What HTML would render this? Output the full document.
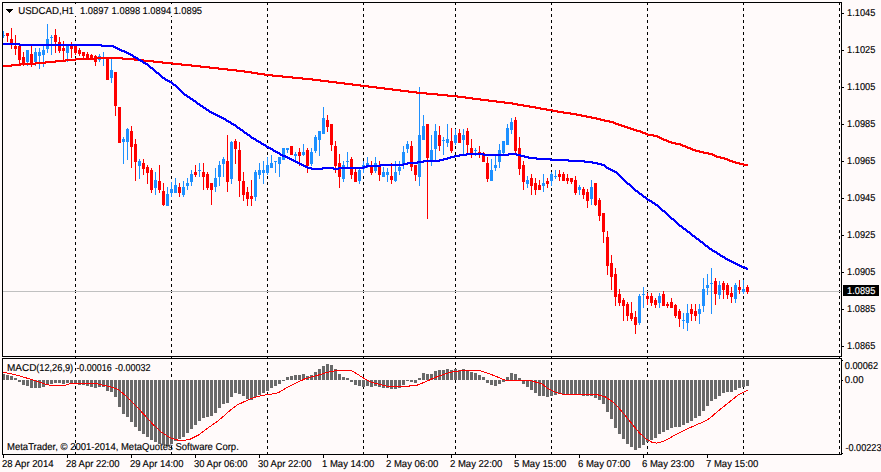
<!DOCTYPE html><html><head><meta charset="utf-8"><title>USDCAD,H1</title>
<style>html,body{margin:0;padding:0;background:#fffafa;overflow:hidden}svg{display:block}text{font-family:"Liberation Sans",sans-serif;fill:#000;stroke:#000;stroke-width:0.14px;text-rendering:geometricPrecision}</style></head><body>
<svg width="881" height="472" viewBox="0 0 881 472">
<rect x="0" y="0" width="881" height="472" fill="#fffafa"/>
<g shape-rendering="crispEdges">
<rect x="75" y="3" width="1" height="2" fill="#000"/>
<rect x="75" y="8" width="1" height="3" fill="#000"/>
<rect x="75" y="14" width="1" height="3" fill="#000"/>
<rect x="75" y="20" width="1" height="3" fill="#000"/>
<rect x="75" y="26" width="1" height="3" fill="#000"/>
<rect x="75" y="32" width="1" height="3" fill="#000"/>
<rect x="75" y="38" width="1" height="3" fill="#000"/>
<rect x="75" y="44" width="1" height="3" fill="#000"/>
<rect x="75" y="50" width="1" height="3" fill="#000"/>
<rect x="75" y="56" width="1" height="3" fill="#000"/>
<rect x="75" y="62" width="1" height="3" fill="#000"/>
<rect x="75" y="68" width="1" height="3" fill="#000"/>
<rect x="75" y="74" width="1" height="3" fill="#000"/>
<rect x="75" y="80" width="1" height="3" fill="#000"/>
<rect x="75" y="86" width="1" height="3" fill="#000"/>
<rect x="75" y="92" width="1" height="3" fill="#000"/>
<rect x="75" y="98" width="1" height="3" fill="#000"/>
<rect x="75" y="104" width="1" height="3" fill="#000"/>
<rect x="75" y="110" width="1" height="3" fill="#000"/>
<rect x="75" y="116" width="1" height="3" fill="#000"/>
<rect x="75" y="122" width="1" height="3" fill="#000"/>
<rect x="75" y="128" width="1" height="3" fill="#000"/>
<rect x="75" y="134" width="1" height="3" fill="#000"/>
<rect x="75" y="140" width="1" height="3" fill="#000"/>
<rect x="75" y="146" width="1" height="3" fill="#000"/>
<rect x="75" y="152" width="1" height="3" fill="#000"/>
<rect x="75" y="158" width="1" height="3" fill="#000"/>
<rect x="75" y="164" width="1" height="3" fill="#000"/>
<rect x="75" y="170" width="1" height="3" fill="#000"/>
<rect x="75" y="176" width="1" height="3" fill="#000"/>
<rect x="75" y="182" width="1" height="3" fill="#000"/>
<rect x="75" y="188" width="1" height="3" fill="#000"/>
<rect x="75" y="194" width="1" height="3" fill="#000"/>
<rect x="75" y="200" width="1" height="3" fill="#000"/>
<rect x="75" y="206" width="1" height="3" fill="#000"/>
<rect x="75" y="212" width="1" height="3" fill="#000"/>
<rect x="75" y="218" width="1" height="3" fill="#000"/>
<rect x="75" y="224" width="1" height="3" fill="#000"/>
<rect x="75" y="230" width="1" height="3" fill="#000"/>
<rect x="75" y="236" width="1" height="3" fill="#000"/>
<rect x="75" y="242" width="1" height="3" fill="#000"/>
<rect x="75" y="248" width="1" height="3" fill="#000"/>
<rect x="75" y="254" width="1" height="3" fill="#000"/>
<rect x="75" y="260" width="1" height="3" fill="#000"/>
<rect x="75" y="266" width="1" height="3" fill="#000"/>
<rect x="75" y="272" width="1" height="3" fill="#000"/>
<rect x="75" y="278" width="1" height="3" fill="#000"/>
<rect x="75" y="284" width="1" height="3" fill="#000"/>
<rect x="75" y="290" width="1" height="3" fill="#000"/>
<rect x="75" y="296" width="1" height="3" fill="#000"/>
<rect x="75" y="302" width="1" height="3" fill="#000"/>
<rect x="75" y="308" width="1" height="3" fill="#000"/>
<rect x="75" y="314" width="1" height="3" fill="#000"/>
<rect x="75" y="320" width="1" height="3" fill="#000"/>
<rect x="75" y="326" width="1" height="3" fill="#000"/>
<rect x="75" y="332" width="1" height="3" fill="#000"/>
<rect x="75" y="338" width="1" height="3" fill="#000"/>
<rect x="75" y="344" width="1" height="3" fill="#000"/>
<rect x="75" y="350" width="1" height="3" fill="#000"/>
<rect x="75" y="356" width="1" height="3" fill="#000"/>
<rect x="75" y="362" width="1" height="3" fill="#000"/>
<rect x="75" y="368" width="1" height="3" fill="#000"/>
<rect x="75" y="374" width="1" height="3" fill="#000"/>
<rect x="75" y="380" width="1" height="3" fill="#000"/>
<rect x="75" y="386" width="1" height="3" fill="#000"/>
<rect x="75" y="392" width="1" height="3" fill="#000"/>
<rect x="75" y="398" width="1" height="3" fill="#000"/>
<rect x="75" y="404" width="1" height="3" fill="#000"/>
<rect x="75" y="410" width="1" height="3" fill="#000"/>
<rect x="75" y="416" width="1" height="3" fill="#000"/>
<rect x="75" y="422" width="1" height="3" fill="#000"/>
<rect x="75" y="428" width="1" height="3" fill="#000"/>
<rect x="75" y="434" width="1" height="3" fill="#000"/>
<rect x="75" y="440" width="1" height="3" fill="#000"/>
<rect x="75" y="446" width="1" height="3" fill="#000"/>
<rect x="75" y="452" width="1" height="2" fill="#000"/>
<rect x="171" y="3" width="1" height="2" fill="#000"/>
<rect x="171" y="8" width="1" height="3" fill="#000"/>
<rect x="171" y="14" width="1" height="3" fill="#000"/>
<rect x="171" y="20" width="1" height="3" fill="#000"/>
<rect x="171" y="26" width="1" height="3" fill="#000"/>
<rect x="171" y="32" width="1" height="3" fill="#000"/>
<rect x="171" y="38" width="1" height="3" fill="#000"/>
<rect x="171" y="44" width="1" height="3" fill="#000"/>
<rect x="171" y="50" width="1" height="3" fill="#000"/>
<rect x="171" y="56" width="1" height="3" fill="#000"/>
<rect x="171" y="62" width="1" height="3" fill="#000"/>
<rect x="171" y="68" width="1" height="3" fill="#000"/>
<rect x="171" y="74" width="1" height="3" fill="#000"/>
<rect x="171" y="80" width="1" height="3" fill="#000"/>
<rect x="171" y="86" width="1" height="3" fill="#000"/>
<rect x="171" y="92" width="1" height="3" fill="#000"/>
<rect x="171" y="98" width="1" height="3" fill="#000"/>
<rect x="171" y="104" width="1" height="3" fill="#000"/>
<rect x="171" y="110" width="1" height="3" fill="#000"/>
<rect x="171" y="116" width="1" height="3" fill="#000"/>
<rect x="171" y="122" width="1" height="3" fill="#000"/>
<rect x="171" y="128" width="1" height="3" fill="#000"/>
<rect x="171" y="134" width="1" height="3" fill="#000"/>
<rect x="171" y="140" width="1" height="3" fill="#000"/>
<rect x="171" y="146" width="1" height="3" fill="#000"/>
<rect x="171" y="152" width="1" height="3" fill="#000"/>
<rect x="171" y="158" width="1" height="3" fill="#000"/>
<rect x="171" y="164" width="1" height="3" fill="#000"/>
<rect x="171" y="170" width="1" height="3" fill="#000"/>
<rect x="171" y="176" width="1" height="3" fill="#000"/>
<rect x="171" y="182" width="1" height="3" fill="#000"/>
<rect x="171" y="188" width="1" height="3" fill="#000"/>
<rect x="171" y="194" width="1" height="3" fill="#000"/>
<rect x="171" y="200" width="1" height="3" fill="#000"/>
<rect x="171" y="206" width="1" height="3" fill="#000"/>
<rect x="171" y="212" width="1" height="3" fill="#000"/>
<rect x="171" y="218" width="1" height="3" fill="#000"/>
<rect x="171" y="224" width="1" height="3" fill="#000"/>
<rect x="171" y="230" width="1" height="3" fill="#000"/>
<rect x="171" y="236" width="1" height="3" fill="#000"/>
<rect x="171" y="242" width="1" height="3" fill="#000"/>
<rect x="171" y="248" width="1" height="3" fill="#000"/>
<rect x="171" y="254" width="1" height="3" fill="#000"/>
<rect x="171" y="260" width="1" height="3" fill="#000"/>
<rect x="171" y="266" width="1" height="3" fill="#000"/>
<rect x="171" y="272" width="1" height="3" fill="#000"/>
<rect x="171" y="278" width="1" height="3" fill="#000"/>
<rect x="171" y="284" width="1" height="3" fill="#000"/>
<rect x="171" y="290" width="1" height="3" fill="#000"/>
<rect x="171" y="296" width="1" height="3" fill="#000"/>
<rect x="171" y="302" width="1" height="3" fill="#000"/>
<rect x="171" y="308" width="1" height="3" fill="#000"/>
<rect x="171" y="314" width="1" height="3" fill="#000"/>
<rect x="171" y="320" width="1" height="3" fill="#000"/>
<rect x="171" y="326" width="1" height="3" fill="#000"/>
<rect x="171" y="332" width="1" height="3" fill="#000"/>
<rect x="171" y="338" width="1" height="3" fill="#000"/>
<rect x="171" y="344" width="1" height="3" fill="#000"/>
<rect x="171" y="350" width="1" height="3" fill="#000"/>
<rect x="171" y="356" width="1" height="3" fill="#000"/>
<rect x="171" y="362" width="1" height="3" fill="#000"/>
<rect x="171" y="368" width="1" height="3" fill="#000"/>
<rect x="171" y="374" width="1" height="3" fill="#000"/>
<rect x="171" y="380" width="1" height="3" fill="#000"/>
<rect x="171" y="386" width="1" height="3" fill="#000"/>
<rect x="171" y="392" width="1" height="3" fill="#000"/>
<rect x="171" y="398" width="1" height="3" fill="#000"/>
<rect x="171" y="404" width="1" height="3" fill="#000"/>
<rect x="171" y="410" width="1" height="3" fill="#000"/>
<rect x="171" y="416" width="1" height="3" fill="#000"/>
<rect x="171" y="422" width="1" height="3" fill="#000"/>
<rect x="171" y="428" width="1" height="3" fill="#000"/>
<rect x="171" y="434" width="1" height="3" fill="#000"/>
<rect x="171" y="440" width="1" height="3" fill="#000"/>
<rect x="171" y="446" width="1" height="3" fill="#000"/>
<rect x="171" y="452" width="1" height="2" fill="#000"/>
<rect x="267" y="3" width="1" height="2" fill="#000"/>
<rect x="267" y="8" width="1" height="3" fill="#000"/>
<rect x="267" y="14" width="1" height="3" fill="#000"/>
<rect x="267" y="20" width="1" height="3" fill="#000"/>
<rect x="267" y="26" width="1" height="3" fill="#000"/>
<rect x="267" y="32" width="1" height="3" fill="#000"/>
<rect x="267" y="38" width="1" height="3" fill="#000"/>
<rect x="267" y="44" width="1" height="3" fill="#000"/>
<rect x="267" y="50" width="1" height="3" fill="#000"/>
<rect x="267" y="56" width="1" height="3" fill="#000"/>
<rect x="267" y="62" width="1" height="3" fill="#000"/>
<rect x="267" y="68" width="1" height="3" fill="#000"/>
<rect x="267" y="74" width="1" height="3" fill="#000"/>
<rect x="267" y="80" width="1" height="3" fill="#000"/>
<rect x="267" y="86" width="1" height="3" fill="#000"/>
<rect x="267" y="92" width="1" height="3" fill="#000"/>
<rect x="267" y="98" width="1" height="3" fill="#000"/>
<rect x="267" y="104" width="1" height="3" fill="#000"/>
<rect x="267" y="110" width="1" height="3" fill="#000"/>
<rect x="267" y="116" width="1" height="3" fill="#000"/>
<rect x="267" y="122" width="1" height="3" fill="#000"/>
<rect x="267" y="128" width="1" height="3" fill="#000"/>
<rect x="267" y="134" width="1" height="3" fill="#000"/>
<rect x="267" y="140" width="1" height="3" fill="#000"/>
<rect x="267" y="146" width="1" height="3" fill="#000"/>
<rect x="267" y="152" width="1" height="3" fill="#000"/>
<rect x="267" y="158" width="1" height="3" fill="#000"/>
<rect x="267" y="164" width="1" height="3" fill="#000"/>
<rect x="267" y="170" width="1" height="3" fill="#000"/>
<rect x="267" y="176" width="1" height="3" fill="#000"/>
<rect x="267" y="182" width="1" height="3" fill="#000"/>
<rect x="267" y="188" width="1" height="3" fill="#000"/>
<rect x="267" y="194" width="1" height="3" fill="#000"/>
<rect x="267" y="200" width="1" height="3" fill="#000"/>
<rect x="267" y="206" width="1" height="3" fill="#000"/>
<rect x="267" y="212" width="1" height="3" fill="#000"/>
<rect x="267" y="218" width="1" height="3" fill="#000"/>
<rect x="267" y="224" width="1" height="3" fill="#000"/>
<rect x="267" y="230" width="1" height="3" fill="#000"/>
<rect x="267" y="236" width="1" height="3" fill="#000"/>
<rect x="267" y="242" width="1" height="3" fill="#000"/>
<rect x="267" y="248" width="1" height="3" fill="#000"/>
<rect x="267" y="254" width="1" height="3" fill="#000"/>
<rect x="267" y="260" width="1" height="3" fill="#000"/>
<rect x="267" y="266" width="1" height="3" fill="#000"/>
<rect x="267" y="272" width="1" height="3" fill="#000"/>
<rect x="267" y="278" width="1" height="3" fill="#000"/>
<rect x="267" y="284" width="1" height="3" fill="#000"/>
<rect x="267" y="290" width="1" height="3" fill="#000"/>
<rect x="267" y="296" width="1" height="3" fill="#000"/>
<rect x="267" y="302" width="1" height="3" fill="#000"/>
<rect x="267" y="308" width="1" height="3" fill="#000"/>
<rect x="267" y="314" width="1" height="3" fill="#000"/>
<rect x="267" y="320" width="1" height="3" fill="#000"/>
<rect x="267" y="326" width="1" height="3" fill="#000"/>
<rect x="267" y="332" width="1" height="3" fill="#000"/>
<rect x="267" y="338" width="1" height="3" fill="#000"/>
<rect x="267" y="344" width="1" height="3" fill="#000"/>
<rect x="267" y="350" width="1" height="3" fill="#000"/>
<rect x="267" y="356" width="1" height="3" fill="#000"/>
<rect x="267" y="362" width="1" height="3" fill="#000"/>
<rect x="267" y="368" width="1" height="3" fill="#000"/>
<rect x="267" y="374" width="1" height="3" fill="#000"/>
<rect x="267" y="380" width="1" height="3" fill="#000"/>
<rect x="267" y="386" width="1" height="3" fill="#000"/>
<rect x="267" y="392" width="1" height="3" fill="#000"/>
<rect x="267" y="398" width="1" height="3" fill="#000"/>
<rect x="267" y="404" width="1" height="3" fill="#000"/>
<rect x="267" y="410" width="1" height="3" fill="#000"/>
<rect x="267" y="416" width="1" height="3" fill="#000"/>
<rect x="267" y="422" width="1" height="3" fill="#000"/>
<rect x="267" y="428" width="1" height="3" fill="#000"/>
<rect x="267" y="434" width="1" height="3" fill="#000"/>
<rect x="267" y="440" width="1" height="3" fill="#000"/>
<rect x="267" y="446" width="1" height="3" fill="#000"/>
<rect x="267" y="452" width="1" height="2" fill="#000"/>
<rect x="363" y="3" width="1" height="2" fill="#000"/>
<rect x="363" y="8" width="1" height="3" fill="#000"/>
<rect x="363" y="14" width="1" height="3" fill="#000"/>
<rect x="363" y="20" width="1" height="3" fill="#000"/>
<rect x="363" y="26" width="1" height="3" fill="#000"/>
<rect x="363" y="32" width="1" height="3" fill="#000"/>
<rect x="363" y="38" width="1" height="3" fill="#000"/>
<rect x="363" y="44" width="1" height="3" fill="#000"/>
<rect x="363" y="50" width="1" height="3" fill="#000"/>
<rect x="363" y="56" width="1" height="3" fill="#000"/>
<rect x="363" y="62" width="1" height="3" fill="#000"/>
<rect x="363" y="68" width="1" height="3" fill="#000"/>
<rect x="363" y="74" width="1" height="3" fill="#000"/>
<rect x="363" y="80" width="1" height="3" fill="#000"/>
<rect x="363" y="86" width="1" height="3" fill="#000"/>
<rect x="363" y="92" width="1" height="3" fill="#000"/>
<rect x="363" y="98" width="1" height="3" fill="#000"/>
<rect x="363" y="104" width="1" height="3" fill="#000"/>
<rect x="363" y="110" width="1" height="3" fill="#000"/>
<rect x="363" y="116" width="1" height="3" fill="#000"/>
<rect x="363" y="122" width="1" height="3" fill="#000"/>
<rect x="363" y="128" width="1" height="3" fill="#000"/>
<rect x="363" y="134" width="1" height="3" fill="#000"/>
<rect x="363" y="140" width="1" height="3" fill="#000"/>
<rect x="363" y="146" width="1" height="3" fill="#000"/>
<rect x="363" y="152" width="1" height="3" fill="#000"/>
<rect x="363" y="158" width="1" height="3" fill="#000"/>
<rect x="363" y="164" width="1" height="3" fill="#000"/>
<rect x="363" y="170" width="1" height="3" fill="#000"/>
<rect x="363" y="176" width="1" height="3" fill="#000"/>
<rect x="363" y="182" width="1" height="3" fill="#000"/>
<rect x="363" y="188" width="1" height="3" fill="#000"/>
<rect x="363" y="194" width="1" height="3" fill="#000"/>
<rect x="363" y="200" width="1" height="3" fill="#000"/>
<rect x="363" y="206" width="1" height="3" fill="#000"/>
<rect x="363" y="212" width="1" height="3" fill="#000"/>
<rect x="363" y="218" width="1" height="3" fill="#000"/>
<rect x="363" y="224" width="1" height="3" fill="#000"/>
<rect x="363" y="230" width="1" height="3" fill="#000"/>
<rect x="363" y="236" width="1" height="3" fill="#000"/>
<rect x="363" y="242" width="1" height="3" fill="#000"/>
<rect x="363" y="248" width="1" height="3" fill="#000"/>
<rect x="363" y="254" width="1" height="3" fill="#000"/>
<rect x="363" y="260" width="1" height="3" fill="#000"/>
<rect x="363" y="266" width="1" height="3" fill="#000"/>
<rect x="363" y="272" width="1" height="3" fill="#000"/>
<rect x="363" y="278" width="1" height="3" fill="#000"/>
<rect x="363" y="284" width="1" height="3" fill="#000"/>
<rect x="363" y="290" width="1" height="3" fill="#000"/>
<rect x="363" y="296" width="1" height="3" fill="#000"/>
<rect x="363" y="302" width="1" height="3" fill="#000"/>
<rect x="363" y="308" width="1" height="3" fill="#000"/>
<rect x="363" y="314" width="1" height="3" fill="#000"/>
<rect x="363" y="320" width="1" height="3" fill="#000"/>
<rect x="363" y="326" width="1" height="3" fill="#000"/>
<rect x="363" y="332" width="1" height="3" fill="#000"/>
<rect x="363" y="338" width="1" height="3" fill="#000"/>
<rect x="363" y="344" width="1" height="3" fill="#000"/>
<rect x="363" y="350" width="1" height="3" fill="#000"/>
<rect x="363" y="356" width="1" height="3" fill="#000"/>
<rect x="363" y="362" width="1" height="3" fill="#000"/>
<rect x="363" y="368" width="1" height="3" fill="#000"/>
<rect x="363" y="374" width="1" height="3" fill="#000"/>
<rect x="363" y="380" width="1" height="3" fill="#000"/>
<rect x="363" y="386" width="1" height="3" fill="#000"/>
<rect x="363" y="392" width="1" height="3" fill="#000"/>
<rect x="363" y="398" width="1" height="3" fill="#000"/>
<rect x="363" y="404" width="1" height="3" fill="#000"/>
<rect x="363" y="410" width="1" height="3" fill="#000"/>
<rect x="363" y="416" width="1" height="3" fill="#000"/>
<rect x="363" y="422" width="1" height="3" fill="#000"/>
<rect x="363" y="428" width="1" height="3" fill="#000"/>
<rect x="363" y="434" width="1" height="3" fill="#000"/>
<rect x="363" y="440" width="1" height="3" fill="#000"/>
<rect x="363" y="446" width="1" height="3" fill="#000"/>
<rect x="363" y="452" width="1" height="2" fill="#000"/>
<rect x="455" y="3" width="1" height="2" fill="#000"/>
<rect x="455" y="8" width="1" height="3" fill="#000"/>
<rect x="455" y="14" width="1" height="3" fill="#000"/>
<rect x="455" y="20" width="1" height="3" fill="#000"/>
<rect x="455" y="26" width="1" height="3" fill="#000"/>
<rect x="455" y="32" width="1" height="3" fill="#000"/>
<rect x="455" y="38" width="1" height="3" fill="#000"/>
<rect x="455" y="44" width="1" height="3" fill="#000"/>
<rect x="455" y="50" width="1" height="3" fill="#000"/>
<rect x="455" y="56" width="1" height="3" fill="#000"/>
<rect x="455" y="62" width="1" height="3" fill="#000"/>
<rect x="455" y="68" width="1" height="3" fill="#000"/>
<rect x="455" y="74" width="1" height="3" fill="#000"/>
<rect x="455" y="80" width="1" height="3" fill="#000"/>
<rect x="455" y="86" width="1" height="3" fill="#000"/>
<rect x="455" y="92" width="1" height="3" fill="#000"/>
<rect x="455" y="98" width="1" height="3" fill="#000"/>
<rect x="455" y="104" width="1" height="3" fill="#000"/>
<rect x="455" y="110" width="1" height="3" fill="#000"/>
<rect x="455" y="116" width="1" height="3" fill="#000"/>
<rect x="455" y="122" width="1" height="3" fill="#000"/>
<rect x="455" y="128" width="1" height="3" fill="#000"/>
<rect x="455" y="134" width="1" height="3" fill="#000"/>
<rect x="455" y="140" width="1" height="3" fill="#000"/>
<rect x="455" y="146" width="1" height="3" fill="#000"/>
<rect x="455" y="152" width="1" height="3" fill="#000"/>
<rect x="455" y="158" width="1" height="3" fill="#000"/>
<rect x="455" y="164" width="1" height="3" fill="#000"/>
<rect x="455" y="170" width="1" height="3" fill="#000"/>
<rect x="455" y="176" width="1" height="3" fill="#000"/>
<rect x="455" y="182" width="1" height="3" fill="#000"/>
<rect x="455" y="188" width="1" height="3" fill="#000"/>
<rect x="455" y="194" width="1" height="3" fill="#000"/>
<rect x="455" y="200" width="1" height="3" fill="#000"/>
<rect x="455" y="206" width="1" height="3" fill="#000"/>
<rect x="455" y="212" width="1" height="3" fill="#000"/>
<rect x="455" y="218" width="1" height="3" fill="#000"/>
<rect x="455" y="224" width="1" height="3" fill="#000"/>
<rect x="455" y="230" width="1" height="3" fill="#000"/>
<rect x="455" y="236" width="1" height="3" fill="#000"/>
<rect x="455" y="242" width="1" height="3" fill="#000"/>
<rect x="455" y="248" width="1" height="3" fill="#000"/>
<rect x="455" y="254" width="1" height="3" fill="#000"/>
<rect x="455" y="260" width="1" height="3" fill="#000"/>
<rect x="455" y="266" width="1" height="3" fill="#000"/>
<rect x="455" y="272" width="1" height="3" fill="#000"/>
<rect x="455" y="278" width="1" height="3" fill="#000"/>
<rect x="455" y="284" width="1" height="3" fill="#000"/>
<rect x="455" y="290" width="1" height="3" fill="#000"/>
<rect x="455" y="296" width="1" height="3" fill="#000"/>
<rect x="455" y="302" width="1" height="3" fill="#000"/>
<rect x="455" y="308" width="1" height="3" fill="#000"/>
<rect x="455" y="314" width="1" height="3" fill="#000"/>
<rect x="455" y="320" width="1" height="3" fill="#000"/>
<rect x="455" y="326" width="1" height="3" fill="#000"/>
<rect x="455" y="332" width="1" height="3" fill="#000"/>
<rect x="455" y="338" width="1" height="3" fill="#000"/>
<rect x="455" y="344" width="1" height="3" fill="#000"/>
<rect x="455" y="350" width="1" height="3" fill="#000"/>
<rect x="455" y="356" width="1" height="3" fill="#000"/>
<rect x="455" y="362" width="1" height="3" fill="#000"/>
<rect x="455" y="368" width="1" height="3" fill="#000"/>
<rect x="455" y="374" width="1" height="3" fill="#000"/>
<rect x="455" y="380" width="1" height="3" fill="#000"/>
<rect x="455" y="386" width="1" height="3" fill="#000"/>
<rect x="455" y="392" width="1" height="3" fill="#000"/>
<rect x="455" y="398" width="1" height="3" fill="#000"/>
<rect x="455" y="404" width="1" height="3" fill="#000"/>
<rect x="455" y="410" width="1" height="3" fill="#000"/>
<rect x="455" y="416" width="1" height="3" fill="#000"/>
<rect x="455" y="422" width="1" height="3" fill="#000"/>
<rect x="455" y="428" width="1" height="3" fill="#000"/>
<rect x="455" y="434" width="1" height="3" fill="#000"/>
<rect x="455" y="440" width="1" height="3" fill="#000"/>
<rect x="455" y="446" width="1" height="3" fill="#000"/>
<rect x="455" y="452" width="1" height="2" fill="#000"/>
<rect x="551" y="3" width="1" height="2" fill="#000"/>
<rect x="551" y="8" width="1" height="3" fill="#000"/>
<rect x="551" y="14" width="1" height="3" fill="#000"/>
<rect x="551" y="20" width="1" height="3" fill="#000"/>
<rect x="551" y="26" width="1" height="3" fill="#000"/>
<rect x="551" y="32" width="1" height="3" fill="#000"/>
<rect x="551" y="38" width="1" height="3" fill="#000"/>
<rect x="551" y="44" width="1" height="3" fill="#000"/>
<rect x="551" y="50" width="1" height="3" fill="#000"/>
<rect x="551" y="56" width="1" height="3" fill="#000"/>
<rect x="551" y="62" width="1" height="3" fill="#000"/>
<rect x="551" y="68" width="1" height="3" fill="#000"/>
<rect x="551" y="74" width="1" height="3" fill="#000"/>
<rect x="551" y="80" width="1" height="3" fill="#000"/>
<rect x="551" y="86" width="1" height="3" fill="#000"/>
<rect x="551" y="92" width="1" height="3" fill="#000"/>
<rect x="551" y="98" width="1" height="3" fill="#000"/>
<rect x="551" y="104" width="1" height="3" fill="#000"/>
<rect x="551" y="110" width="1" height="3" fill="#000"/>
<rect x="551" y="116" width="1" height="3" fill="#000"/>
<rect x="551" y="122" width="1" height="3" fill="#000"/>
<rect x="551" y="128" width="1" height="3" fill="#000"/>
<rect x="551" y="134" width="1" height="3" fill="#000"/>
<rect x="551" y="140" width="1" height="3" fill="#000"/>
<rect x="551" y="146" width="1" height="3" fill="#000"/>
<rect x="551" y="152" width="1" height="3" fill="#000"/>
<rect x="551" y="158" width="1" height="3" fill="#000"/>
<rect x="551" y="164" width="1" height="3" fill="#000"/>
<rect x="551" y="170" width="1" height="3" fill="#000"/>
<rect x="551" y="176" width="1" height="3" fill="#000"/>
<rect x="551" y="182" width="1" height="3" fill="#000"/>
<rect x="551" y="188" width="1" height="3" fill="#000"/>
<rect x="551" y="194" width="1" height="3" fill="#000"/>
<rect x="551" y="200" width="1" height="3" fill="#000"/>
<rect x="551" y="206" width="1" height="3" fill="#000"/>
<rect x="551" y="212" width="1" height="3" fill="#000"/>
<rect x="551" y="218" width="1" height="3" fill="#000"/>
<rect x="551" y="224" width="1" height="3" fill="#000"/>
<rect x="551" y="230" width="1" height="3" fill="#000"/>
<rect x="551" y="236" width="1" height="3" fill="#000"/>
<rect x="551" y="242" width="1" height="3" fill="#000"/>
<rect x="551" y="248" width="1" height="3" fill="#000"/>
<rect x="551" y="254" width="1" height="3" fill="#000"/>
<rect x="551" y="260" width="1" height="3" fill="#000"/>
<rect x="551" y="266" width="1" height="3" fill="#000"/>
<rect x="551" y="272" width="1" height="3" fill="#000"/>
<rect x="551" y="278" width="1" height="3" fill="#000"/>
<rect x="551" y="284" width="1" height="3" fill="#000"/>
<rect x="551" y="290" width="1" height="3" fill="#000"/>
<rect x="551" y="296" width="1" height="3" fill="#000"/>
<rect x="551" y="302" width="1" height="3" fill="#000"/>
<rect x="551" y="308" width="1" height="3" fill="#000"/>
<rect x="551" y="314" width="1" height="3" fill="#000"/>
<rect x="551" y="320" width="1" height="3" fill="#000"/>
<rect x="551" y="326" width="1" height="3" fill="#000"/>
<rect x="551" y="332" width="1" height="3" fill="#000"/>
<rect x="551" y="338" width="1" height="3" fill="#000"/>
<rect x="551" y="344" width="1" height="3" fill="#000"/>
<rect x="551" y="350" width="1" height="3" fill="#000"/>
<rect x="551" y="356" width="1" height="3" fill="#000"/>
<rect x="551" y="362" width="1" height="3" fill="#000"/>
<rect x="551" y="368" width="1" height="3" fill="#000"/>
<rect x="551" y="374" width="1" height="3" fill="#000"/>
<rect x="551" y="380" width="1" height="3" fill="#000"/>
<rect x="551" y="386" width="1" height="3" fill="#000"/>
<rect x="551" y="392" width="1" height="3" fill="#000"/>
<rect x="551" y="398" width="1" height="3" fill="#000"/>
<rect x="551" y="404" width="1" height="3" fill="#000"/>
<rect x="551" y="410" width="1" height="3" fill="#000"/>
<rect x="551" y="416" width="1" height="3" fill="#000"/>
<rect x="551" y="422" width="1" height="3" fill="#000"/>
<rect x="551" y="428" width="1" height="3" fill="#000"/>
<rect x="551" y="434" width="1" height="3" fill="#000"/>
<rect x="551" y="440" width="1" height="3" fill="#000"/>
<rect x="551" y="446" width="1" height="3" fill="#000"/>
<rect x="551" y="452" width="1" height="2" fill="#000"/>
<rect x="647" y="3" width="1" height="2" fill="#000"/>
<rect x="647" y="8" width="1" height="3" fill="#000"/>
<rect x="647" y="14" width="1" height="3" fill="#000"/>
<rect x="647" y="20" width="1" height="3" fill="#000"/>
<rect x="647" y="26" width="1" height="3" fill="#000"/>
<rect x="647" y="32" width="1" height="3" fill="#000"/>
<rect x="647" y="38" width="1" height="3" fill="#000"/>
<rect x="647" y="44" width="1" height="3" fill="#000"/>
<rect x="647" y="50" width="1" height="3" fill="#000"/>
<rect x="647" y="56" width="1" height="3" fill="#000"/>
<rect x="647" y="62" width="1" height="3" fill="#000"/>
<rect x="647" y="68" width="1" height="3" fill="#000"/>
<rect x="647" y="74" width="1" height="3" fill="#000"/>
<rect x="647" y="80" width="1" height="3" fill="#000"/>
<rect x="647" y="86" width="1" height="3" fill="#000"/>
<rect x="647" y="92" width="1" height="3" fill="#000"/>
<rect x="647" y="98" width="1" height="3" fill="#000"/>
<rect x="647" y="104" width="1" height="3" fill="#000"/>
<rect x="647" y="110" width="1" height="3" fill="#000"/>
<rect x="647" y="116" width="1" height="3" fill="#000"/>
<rect x="647" y="122" width="1" height="3" fill="#000"/>
<rect x="647" y="128" width="1" height="3" fill="#000"/>
<rect x="647" y="134" width="1" height="3" fill="#000"/>
<rect x="647" y="140" width="1" height="3" fill="#000"/>
<rect x="647" y="146" width="1" height="3" fill="#000"/>
<rect x="647" y="152" width="1" height="3" fill="#000"/>
<rect x="647" y="158" width="1" height="3" fill="#000"/>
<rect x="647" y="164" width="1" height="3" fill="#000"/>
<rect x="647" y="170" width="1" height="3" fill="#000"/>
<rect x="647" y="176" width="1" height="3" fill="#000"/>
<rect x="647" y="182" width="1" height="3" fill="#000"/>
<rect x="647" y="188" width="1" height="3" fill="#000"/>
<rect x="647" y="194" width="1" height="3" fill="#000"/>
<rect x="647" y="200" width="1" height="3" fill="#000"/>
<rect x="647" y="206" width="1" height="3" fill="#000"/>
<rect x="647" y="212" width="1" height="3" fill="#000"/>
<rect x="647" y="218" width="1" height="3" fill="#000"/>
<rect x="647" y="224" width="1" height="3" fill="#000"/>
<rect x="647" y="230" width="1" height="3" fill="#000"/>
<rect x="647" y="236" width="1" height="3" fill="#000"/>
<rect x="647" y="242" width="1" height="3" fill="#000"/>
<rect x="647" y="248" width="1" height="3" fill="#000"/>
<rect x="647" y="254" width="1" height="3" fill="#000"/>
<rect x="647" y="260" width="1" height="3" fill="#000"/>
<rect x="647" y="266" width="1" height="3" fill="#000"/>
<rect x="647" y="272" width="1" height="3" fill="#000"/>
<rect x="647" y="278" width="1" height="3" fill="#000"/>
<rect x="647" y="284" width="1" height="3" fill="#000"/>
<rect x="647" y="290" width="1" height="3" fill="#000"/>
<rect x="647" y="296" width="1" height="3" fill="#000"/>
<rect x="647" y="302" width="1" height="3" fill="#000"/>
<rect x="647" y="308" width="1" height="3" fill="#000"/>
<rect x="647" y="314" width="1" height="3" fill="#000"/>
<rect x="647" y="320" width="1" height="3" fill="#000"/>
<rect x="647" y="326" width="1" height="3" fill="#000"/>
<rect x="647" y="332" width="1" height="3" fill="#000"/>
<rect x="647" y="338" width="1" height="3" fill="#000"/>
<rect x="647" y="344" width="1" height="3" fill="#000"/>
<rect x="647" y="350" width="1" height="3" fill="#000"/>
<rect x="647" y="356" width="1" height="3" fill="#000"/>
<rect x="647" y="362" width="1" height="3" fill="#000"/>
<rect x="647" y="368" width="1" height="3" fill="#000"/>
<rect x="647" y="374" width="1" height="3" fill="#000"/>
<rect x="647" y="380" width="1" height="3" fill="#000"/>
<rect x="647" y="386" width="1" height="3" fill="#000"/>
<rect x="647" y="392" width="1" height="3" fill="#000"/>
<rect x="647" y="398" width="1" height="3" fill="#000"/>
<rect x="647" y="404" width="1" height="3" fill="#000"/>
<rect x="647" y="410" width="1" height="3" fill="#000"/>
<rect x="647" y="416" width="1" height="3" fill="#000"/>
<rect x="647" y="422" width="1" height="3" fill="#000"/>
<rect x="647" y="428" width="1" height="3" fill="#000"/>
<rect x="647" y="434" width="1" height="3" fill="#000"/>
<rect x="647" y="440" width="1" height="3" fill="#000"/>
<rect x="647" y="446" width="1" height="3" fill="#000"/>
<rect x="647" y="452" width="1" height="2" fill="#000"/>
<rect x="743" y="3" width="1" height="2" fill="#000"/>
<rect x="743" y="8" width="1" height="3" fill="#000"/>
<rect x="743" y="14" width="1" height="3" fill="#000"/>
<rect x="743" y="20" width="1" height="3" fill="#000"/>
<rect x="743" y="26" width="1" height="3" fill="#000"/>
<rect x="743" y="32" width="1" height="3" fill="#000"/>
<rect x="743" y="38" width="1" height="3" fill="#000"/>
<rect x="743" y="44" width="1" height="3" fill="#000"/>
<rect x="743" y="50" width="1" height="3" fill="#000"/>
<rect x="743" y="56" width="1" height="3" fill="#000"/>
<rect x="743" y="62" width="1" height="3" fill="#000"/>
<rect x="743" y="68" width="1" height="3" fill="#000"/>
<rect x="743" y="74" width="1" height="3" fill="#000"/>
<rect x="743" y="80" width="1" height="3" fill="#000"/>
<rect x="743" y="86" width="1" height="3" fill="#000"/>
<rect x="743" y="92" width="1" height="3" fill="#000"/>
<rect x="743" y="98" width="1" height="3" fill="#000"/>
<rect x="743" y="104" width="1" height="3" fill="#000"/>
<rect x="743" y="110" width="1" height="3" fill="#000"/>
<rect x="743" y="116" width="1" height="3" fill="#000"/>
<rect x="743" y="122" width="1" height="3" fill="#000"/>
<rect x="743" y="128" width="1" height="3" fill="#000"/>
<rect x="743" y="134" width="1" height="3" fill="#000"/>
<rect x="743" y="140" width="1" height="3" fill="#000"/>
<rect x="743" y="146" width="1" height="3" fill="#000"/>
<rect x="743" y="152" width="1" height="3" fill="#000"/>
<rect x="743" y="158" width="1" height="3" fill="#000"/>
<rect x="743" y="164" width="1" height="3" fill="#000"/>
<rect x="743" y="170" width="1" height="3" fill="#000"/>
<rect x="743" y="176" width="1" height="3" fill="#000"/>
<rect x="743" y="182" width="1" height="3" fill="#000"/>
<rect x="743" y="188" width="1" height="3" fill="#000"/>
<rect x="743" y="194" width="1" height="3" fill="#000"/>
<rect x="743" y="200" width="1" height="3" fill="#000"/>
<rect x="743" y="206" width="1" height="3" fill="#000"/>
<rect x="743" y="212" width="1" height="3" fill="#000"/>
<rect x="743" y="218" width="1" height="3" fill="#000"/>
<rect x="743" y="224" width="1" height="3" fill="#000"/>
<rect x="743" y="230" width="1" height="3" fill="#000"/>
<rect x="743" y="236" width="1" height="3" fill="#000"/>
<rect x="743" y="242" width="1" height="3" fill="#000"/>
<rect x="743" y="248" width="1" height="3" fill="#000"/>
<rect x="743" y="254" width="1" height="3" fill="#000"/>
<rect x="743" y="260" width="1" height="3" fill="#000"/>
<rect x="743" y="266" width="1" height="3" fill="#000"/>
<rect x="743" y="272" width="1" height="3" fill="#000"/>
<rect x="743" y="278" width="1" height="3" fill="#000"/>
<rect x="743" y="284" width="1" height="3" fill="#000"/>
<rect x="743" y="290" width="1" height="3" fill="#000"/>
<rect x="743" y="296" width="1" height="3" fill="#000"/>
<rect x="743" y="302" width="1" height="3" fill="#000"/>
<rect x="743" y="308" width="1" height="3" fill="#000"/>
<rect x="743" y="314" width="1" height="3" fill="#000"/>
<rect x="743" y="320" width="1" height="3" fill="#000"/>
<rect x="743" y="326" width="1" height="3" fill="#000"/>
<rect x="743" y="332" width="1" height="3" fill="#000"/>
<rect x="743" y="338" width="1" height="3" fill="#000"/>
<rect x="743" y="344" width="1" height="3" fill="#000"/>
<rect x="743" y="350" width="1" height="3" fill="#000"/>
<rect x="743" y="356" width="1" height="3" fill="#000"/>
<rect x="743" y="362" width="1" height="3" fill="#000"/>
<rect x="743" y="368" width="1" height="3" fill="#000"/>
<rect x="743" y="374" width="1" height="3" fill="#000"/>
<rect x="743" y="380" width="1" height="3" fill="#000"/>
<rect x="743" y="386" width="1" height="3" fill="#000"/>
<rect x="743" y="392" width="1" height="3" fill="#000"/>
<rect x="743" y="398" width="1" height="3" fill="#000"/>
<rect x="743" y="404" width="1" height="3" fill="#000"/>
<rect x="743" y="410" width="1" height="3" fill="#000"/>
<rect x="743" y="416" width="1" height="3" fill="#000"/>
<rect x="743" y="422" width="1" height="3" fill="#000"/>
<rect x="743" y="428" width="1" height="3" fill="#000"/>
<rect x="743" y="434" width="1" height="3" fill="#000"/>
<rect x="743" y="440" width="1" height="3" fill="#000"/>
<rect x="743" y="446" width="1" height="3" fill="#000"/>
<rect x="743" y="452" width="1" height="2" fill="#000"/>
<rect x="839" y="3" width="1" height="2" fill="#000"/>
<rect x="839" y="8" width="1" height="3" fill="#000"/>
<rect x="839" y="14" width="1" height="3" fill="#000"/>
<rect x="839" y="20" width="1" height="3" fill="#000"/>
<rect x="839" y="26" width="1" height="3" fill="#000"/>
<rect x="839" y="32" width="1" height="3" fill="#000"/>
<rect x="839" y="38" width="1" height="3" fill="#000"/>
<rect x="839" y="44" width="1" height="3" fill="#000"/>
<rect x="839" y="50" width="1" height="3" fill="#000"/>
<rect x="839" y="56" width="1" height="3" fill="#000"/>
<rect x="839" y="62" width="1" height="3" fill="#000"/>
<rect x="839" y="68" width="1" height="3" fill="#000"/>
<rect x="839" y="74" width="1" height="3" fill="#000"/>
<rect x="839" y="80" width="1" height="3" fill="#000"/>
<rect x="839" y="86" width="1" height="3" fill="#000"/>
<rect x="839" y="92" width="1" height="3" fill="#000"/>
<rect x="839" y="98" width="1" height="3" fill="#000"/>
<rect x="839" y="104" width="1" height="3" fill="#000"/>
<rect x="839" y="110" width="1" height="3" fill="#000"/>
<rect x="839" y="116" width="1" height="3" fill="#000"/>
<rect x="839" y="122" width="1" height="3" fill="#000"/>
<rect x="839" y="128" width="1" height="3" fill="#000"/>
<rect x="839" y="134" width="1" height="3" fill="#000"/>
<rect x="839" y="140" width="1" height="3" fill="#000"/>
<rect x="839" y="146" width="1" height="3" fill="#000"/>
<rect x="839" y="152" width="1" height="3" fill="#000"/>
<rect x="839" y="158" width="1" height="3" fill="#000"/>
<rect x="839" y="164" width="1" height="3" fill="#000"/>
<rect x="839" y="170" width="1" height="3" fill="#000"/>
<rect x="839" y="176" width="1" height="3" fill="#000"/>
<rect x="839" y="182" width="1" height="3" fill="#000"/>
<rect x="839" y="188" width="1" height="3" fill="#000"/>
<rect x="839" y="194" width="1" height="3" fill="#000"/>
<rect x="839" y="200" width="1" height="3" fill="#000"/>
<rect x="839" y="206" width="1" height="3" fill="#000"/>
<rect x="839" y="212" width="1" height="3" fill="#000"/>
<rect x="839" y="218" width="1" height="3" fill="#000"/>
<rect x="839" y="224" width="1" height="3" fill="#000"/>
<rect x="839" y="230" width="1" height="3" fill="#000"/>
<rect x="839" y="236" width="1" height="3" fill="#000"/>
<rect x="839" y="242" width="1" height="3" fill="#000"/>
<rect x="839" y="248" width="1" height="3" fill="#000"/>
<rect x="839" y="254" width="1" height="3" fill="#000"/>
<rect x="839" y="260" width="1" height="3" fill="#000"/>
<rect x="839" y="266" width="1" height="3" fill="#000"/>
<rect x="839" y="272" width="1" height="3" fill="#000"/>
<rect x="839" y="278" width="1" height="3" fill="#000"/>
<rect x="839" y="284" width="1" height="3" fill="#000"/>
<rect x="839" y="290" width="1" height="3" fill="#000"/>
<rect x="839" y="296" width="1" height="3" fill="#000"/>
<rect x="839" y="302" width="1" height="3" fill="#000"/>
<rect x="839" y="308" width="1" height="3" fill="#000"/>
<rect x="839" y="314" width="1" height="3" fill="#000"/>
<rect x="839" y="320" width="1" height="3" fill="#000"/>
<rect x="839" y="326" width="1" height="3" fill="#000"/>
<rect x="839" y="332" width="1" height="3" fill="#000"/>
<rect x="839" y="338" width="1" height="3" fill="#000"/>
<rect x="839" y="344" width="1" height="3" fill="#000"/>
<rect x="839" y="350" width="1" height="3" fill="#000"/>
<rect x="839" y="356" width="1" height="3" fill="#000"/>
<rect x="839" y="362" width="1" height="3" fill="#000"/>
<rect x="839" y="368" width="1" height="3" fill="#000"/>
<rect x="839" y="374" width="1" height="3" fill="#000"/>
<rect x="839" y="380" width="1" height="3" fill="#000"/>
<rect x="839" y="386" width="1" height="3" fill="#000"/>
<rect x="839" y="392" width="1" height="3" fill="#000"/>
<rect x="839" y="398" width="1" height="3" fill="#000"/>
<rect x="839" y="404" width="1" height="3" fill="#000"/>
<rect x="839" y="410" width="1" height="3" fill="#000"/>
<rect x="839" y="416" width="1" height="3" fill="#000"/>
<rect x="839" y="422" width="1" height="3" fill="#000"/>
<rect x="839" y="428" width="1" height="3" fill="#000"/>
<rect x="839" y="434" width="1" height="3" fill="#000"/>
<rect x="839" y="440" width="1" height="3" fill="#000"/>
<rect x="839" y="446" width="1" height="3" fill="#000"/>
<rect x="839" y="452" width="1" height="2" fill="#000"/>
<rect x="3" y="291" width="838" height="1" fill="#c0c0c0"/>
<rect x="4" y="4" width="200" height="12" fill="#fffafa"/>
<rect x="2" y="374" width="3" height="6" fill="#696969"/>
<rect x="6" y="375" width="3" height="5" fill="#696969"/>
<rect x="10" y="376" width="3" height="4" fill="#696969"/>
<rect x="14" y="378" width="3" height="2" fill="#696969"/>
<rect x="18" y="380" width="3" height="2" fill="#696969"/>
<rect x="22" y="380" width="3" height="5" fill="#696969"/>
<rect x="26" y="380" width="3" height="6" fill="#696969"/>
<rect x="30" y="380" width="3" height="8" fill="#696969"/>
<rect x="34" y="380" width="3" height="8" fill="#696969"/>
<rect x="38" y="380" width="3" height="8" fill="#696969"/>
<rect x="42" y="380" width="3" height="7" fill="#696969"/>
<rect x="46" y="380" width="3" height="5" fill="#696969"/>
<rect x="50" y="380" width="3" height="4" fill="#696969"/>
<rect x="54" y="380" width="3" height="3" fill="#696969"/>
<rect x="58" y="380" width="3" height="3" fill="#696969"/>
<rect x="62" y="380" width="3" height="4" fill="#696969"/>
<rect x="66" y="380" width="3" height="3" fill="#696969"/>
<rect x="70" y="380" width="3" height="4" fill="#696969"/>
<rect x="74" y="380" width="3" height="4" fill="#696969"/>
<rect x="78" y="380" width="3" height="5" fill="#696969"/>
<rect x="82" y="380" width="3" height="5" fill="#696969"/>
<rect x="86" y="380" width="3" height="6" fill="#696969"/>
<rect x="90" y="380" width="3" height="7" fill="#696969"/>
<rect x="94" y="380" width="3" height="8" fill="#696969"/>
<rect x="98" y="380" width="3" height="7" fill="#696969"/>
<rect x="102" y="380" width="3" height="7" fill="#696969"/>
<rect x="106" y="380" width="3" height="11" fill="#696969"/>
<rect x="110" y="380" width="3" height="12" fill="#696969"/>
<rect x="114" y="380" width="3" height="17" fill="#696969"/>
<rect x="118" y="380" width="3" height="27" fill="#696969"/>
<rect x="122" y="380" width="3" height="34" fill="#696969"/>
<rect x="126" y="380" width="3" height="37" fill="#696969"/>
<rect x="130" y="380" width="3" height="42" fill="#696969"/>
<rect x="134" y="380" width="3" height="47" fill="#696969"/>
<rect x="138" y="380" width="3" height="51" fill="#696969"/>
<rect x="142" y="380" width="3" height="54" fill="#696969"/>
<rect x="146" y="380" width="3" height="57" fill="#696969"/>
<rect x="150" y="380" width="3" height="60" fill="#696969"/>
<rect x="154" y="380" width="3" height="62" fill="#696969"/>
<rect x="158" y="380" width="3" height="64" fill="#696969"/>
<rect x="162" y="380" width="3" height="65" fill="#696969"/>
<rect x="166" y="380" width="3" height="66" fill="#696969"/>
<rect x="170" y="380" width="3" height="64" fill="#696969"/>
<rect x="174" y="380" width="3" height="61" fill="#696969"/>
<rect x="178" y="380" width="3" height="59" fill="#696969"/>
<rect x="182" y="380" width="3" height="57" fill="#696969"/>
<rect x="186" y="380" width="3" height="53" fill="#696969"/>
<rect x="190" y="380" width="3" height="49" fill="#696969"/>
<rect x="194" y="380" width="3" height="45" fill="#696969"/>
<rect x="198" y="380" width="3" height="41" fill="#696969"/>
<rect x="202" y="380" width="3" height="38" fill="#696969"/>
<rect x="206" y="380" width="3" height="37" fill="#696969"/>
<rect x="210" y="380" width="3" height="36" fill="#696969"/>
<rect x="214" y="380" width="3" height="33" fill="#696969"/>
<rect x="218" y="380" width="3" height="28" fill="#696969"/>
<rect x="222" y="380" width="3" height="24" fill="#696969"/>
<rect x="226" y="380" width="3" height="23" fill="#696969"/>
<rect x="230" y="380" width="3" height="17" fill="#696969"/>
<rect x="234" y="380" width="3" height="13" fill="#696969"/>
<rect x="238" y="380" width="3" height="14" fill="#696969"/>
<rect x="242" y="380" width="3" height="16" fill="#696969"/>
<rect x="246" y="380" width="3" height="19" fill="#696969"/>
<rect x="250" y="380" width="3" height="20" fill="#696969"/>
<rect x="254" y="380" width="3" height="17" fill="#696969"/>
<rect x="258" y="380" width="3" height="15" fill="#696969"/>
<rect x="262" y="380" width="3" height="13" fill="#696969"/>
<rect x="266" y="380" width="3" height="11" fill="#696969"/>
<rect x="270" y="380" width="3" height="8" fill="#696969"/>
<rect x="274" y="380" width="3" height="6" fill="#696969"/>
<rect x="278" y="380" width="3" height="4" fill="#696969"/>
<rect x="282" y="380" width="3" height="1" fill="#696969"/>
<rect x="286" y="377" width="3" height="3" fill="#696969"/>
<rect x="290" y="376" width="3" height="4" fill="#696969"/>
<rect x="294" y="375" width="3" height="5" fill="#696969"/>
<rect x="298" y="375" width="3" height="5" fill="#696969"/>
<rect x="302" y="374" width="3" height="6" fill="#696969"/>
<rect x="306" y="376" width="3" height="4" fill="#696969"/>
<rect x="310" y="375" width="3" height="5" fill="#696969"/>
<rect x="314" y="372" width="3" height="8" fill="#696969"/>
<rect x="318" y="369" width="3" height="11" fill="#696969"/>
<rect x="322" y="366" width="3" height="14" fill="#696969"/>
<rect x="326" y="364" width="3" height="16" fill="#696969"/>
<rect x="330" y="365" width="3" height="15" fill="#696969"/>
<rect x="334" y="369" width="3" height="11" fill="#696969"/>
<rect x="338" y="374" width="3" height="6" fill="#696969"/>
<rect x="342" y="377" width="3" height="3" fill="#696969"/>
<rect x="346" y="378" width="3" height="2" fill="#696969"/>
<rect x="350" y="380" width="3" height="2" fill="#696969"/>
<rect x="354" y="380" width="3" height="5" fill="#696969"/>
<rect x="358" y="380" width="3" height="6" fill="#696969"/>
<rect x="362" y="380" width="3" height="7" fill="#696969"/>
<rect x="366" y="380" width="3" height="6" fill="#696969"/>
<rect x="370" y="380" width="3" height="7" fill="#696969"/>
<rect x="374" y="380" width="3" height="6" fill="#696969"/>
<rect x="378" y="380" width="3" height="7" fill="#696969"/>
<rect x="382" y="380" width="3" height="8" fill="#696969"/>
<rect x="386" y="380" width="3" height="8" fill="#696969"/>
<rect x="390" y="380" width="3" height="9" fill="#696969"/>
<rect x="394" y="380" width="3" height="9" fill="#696969"/>
<rect x="398" y="380" width="3" height="8" fill="#696969"/>
<rect x="402" y="380" width="3" height="5" fill="#696969"/>
<rect x="406" y="380" width="3" height="1" fill="#696969"/>
<rect x="410" y="380" width="3" height="2" fill="#696969"/>
<rect x="414" y="380" width="3" height="3" fill="#696969"/>
<rect x="418" y="378" width="3" height="2" fill="#696969"/>
<rect x="422" y="373" width="3" height="7" fill="#696969"/>
<rect x="426" y="374" width="3" height="6" fill="#696969"/>
<rect x="430" y="374" width="3" height="6" fill="#696969"/>
<rect x="434" y="371" width="3" height="9" fill="#696969"/>
<rect x="438" y="370" width="3" height="10" fill="#696969"/>
<rect x="442" y="370" width="3" height="10" fill="#696969"/>
<rect x="446" y="369" width="3" height="11" fill="#696969"/>
<rect x="450" y="370" width="3" height="10" fill="#696969"/>
<rect x="454" y="369" width="3" height="11" fill="#696969"/>
<rect x="458" y="370" width="3" height="10" fill="#696969"/>
<rect x="462" y="369" width="3" height="11" fill="#696969"/>
<rect x="466" y="371" width="3" height="9" fill="#696969"/>
<rect x="470" y="372" width="3" height="8" fill="#696969"/>
<rect x="474" y="373" width="3" height="7" fill="#696969"/>
<rect x="478" y="375" width="3" height="5" fill="#696969"/>
<rect x="482" y="377" width="3" height="3" fill="#696969"/>
<rect x="486" y="380" width="3" height="3" fill="#696969"/>
<rect x="490" y="380" width="3" height="5" fill="#696969"/>
<rect x="494" y="380" width="3" height="6" fill="#696969"/>
<rect x="498" y="380" width="3" height="4" fill="#696969"/>
<rect x="502" y="380" width="3" height="2" fill="#696969"/>
<rect x="506" y="377" width="3" height="3" fill="#696969"/>
<rect x="510" y="373" width="3" height="7" fill="#696969"/>
<rect x="514" y="374" width="3" height="6" fill="#696969"/>
<rect x="518" y="378" width="3" height="2" fill="#696969"/>
<rect x="522" y="380" width="3" height="4" fill="#696969"/>
<rect x="526" y="380" width="3" height="7" fill="#696969"/>
<rect x="530" y="380" width="3" height="10" fill="#696969"/>
<rect x="534" y="380" width="3" height="13" fill="#696969"/>
<rect x="538" y="380" width="3" height="16" fill="#696969"/>
<rect x="542" y="380" width="3" height="16" fill="#696969"/>
<rect x="546" y="380" width="3" height="17" fill="#696969"/>
<rect x="550" y="380" width="3" height="16" fill="#696969"/>
<rect x="554" y="380" width="3" height="15" fill="#696969"/>
<rect x="558" y="380" width="3" height="14" fill="#696969"/>
<rect x="562" y="380" width="3" height="14" fill="#696969"/>
<rect x="566" y="380" width="3" height="14" fill="#696969"/>
<rect x="570" y="380" width="3" height="14" fill="#696969"/>
<rect x="574" y="380" width="3" height="15" fill="#696969"/>
<rect x="578" y="380" width="3" height="15" fill="#696969"/>
<rect x="582" y="380" width="3" height="16" fill="#696969"/>
<rect x="586" y="380" width="3" height="16" fill="#696969"/>
<rect x="590" y="380" width="3" height="16" fill="#696969"/>
<rect x="594" y="380" width="3" height="18" fill="#696969"/>
<rect x="598" y="380" width="3" height="20" fill="#696969"/>
<rect x="602" y="380" width="3" height="24" fill="#696969"/>
<rect x="606" y="380" width="3" height="32" fill="#696969"/>
<rect x="610" y="380" width="3" height="39" fill="#696969"/>
<rect x="614" y="380" width="3" height="48" fill="#696969"/>
<rect x="618" y="380" width="3" height="54" fill="#696969"/>
<rect x="622" y="380" width="3" height="59" fill="#696969"/>
<rect x="626" y="380" width="3" height="64" fill="#696969"/>
<rect x="630" y="380" width="3" height="67" fill="#696969"/>
<rect x="634" y="380" width="3" height="70" fill="#696969"/>
<rect x="638" y="380" width="3" height="68" fill="#696969"/>
<rect x="642" y="380" width="3" height="65" fill="#696969"/>
<rect x="646" y="380" width="3" height="62" fill="#696969"/>
<rect x="650" y="380" width="3" height="60" fill="#696969"/>
<rect x="654" y="380" width="3" height="58" fill="#696969"/>
<rect x="658" y="380" width="3" height="54" fill="#696969"/>
<rect x="662" y="380" width="3" height="52" fill="#696969"/>
<rect x="666" y="380" width="3" height="50" fill="#696969"/>
<rect x="670" y="380" width="3" height="48" fill="#696969"/>
<rect x="674" y="380" width="3" height="47" fill="#696969"/>
<rect x="678" y="380" width="3" height="47" fill="#696969"/>
<rect x="682" y="380" width="3" height="45" fill="#696969"/>
<rect x="686" y="380" width="3" height="43" fill="#696969"/>
<rect x="690" y="380" width="3" height="41" fill="#696969"/>
<rect x="694" y="380" width="3" height="38" fill="#696969"/>
<rect x="698" y="380" width="3" height="36" fill="#696969"/>
<rect x="702" y="380" width="3" height="31" fill="#696969"/>
<rect x="706" y="380" width="3" height="26" fill="#696969"/>
<rect x="710" y="380" width="3" height="21" fill="#696969"/>
<rect x="714" y="380" width="3" height="19" fill="#696969"/>
<rect x="718" y="380" width="3" height="16" fill="#696969"/>
<rect x="722" y="380" width="3" height="13" fill="#696969"/>
<rect x="726" y="380" width="3" height="12" fill="#696969"/>
<rect x="730" y="380" width="3" height="12" fill="#696969"/>
<rect x="734" y="380" width="3" height="10" fill="#696969"/>
<rect x="738" y="380" width="3" height="8" fill="#696969"/>
<rect x="742" y="380" width="3" height="7" fill="#696969"/>
<rect x="746" y="380" width="3" height="6" fill="#696969"/>
</g>
<polyline fill="none" stroke="#ff0000" stroke-width="1" stroke-linejoin="round" shape-rendering="crispEdges" points="3.5,372.4 14.1,374.4 27.5,378.3 36.5,381.1 43.5,383.6 47.5,384.6 51.5,385.6 65,385.6 70,383.4 94.5,383.4 99.2,384.3 104,385.5 109.2,386.5 116.5,388.8 119,390.1 127.5,397.2 136,405.8 144.5,415.1 153.1,424.5 161.5,432.2 170.1,437.8 178.5,440.3 183.5,440.7 190.5,439 199,434.7 209.3,427 219.2,420 229.5,410.9 236.5,405.4 246.5,400.6 251,398.6 260.1,395.9 267.5,394.6 276.5,393.4 279.5,392 289.5,386.1 305,378.8 318.5,375 327.1,372.5 336.5,370.4 350.1,370.4 353,371.4 363.7,378.2 372.8,382.7 381.9,385 387.5,386.3 400.1,386.8 409.2,386.3 410.5,385.4 416.5,385.4 425.5,381.8 434.5,377.7 443.5,374.5 450.1,372.3 455.5,371.4 463.5,370.4 478.3,370.4 485.5,372.3 496.5,376.6 501.9,379 506.5,380.4 530.1,380.4 533,381.3 541.9,383.8 547.4,388.2 555.5,392.2 562.8,394.3 581.5,394.5 598.5,395 605.5,396.9 612.2,401.5 619,408.3 625.9,416.3 632.5,424.5 639.5,433 646.3,439 651.5,442 656.5,443.2 663.3,441.5 670.1,437.8 676.9,433.9 687.5,428.7 703.5,421.8 708,419.4 712.5,416 714.8,413.9 721.5,408.3 730.1,401.5 738.5,394.7 747.5,390.4"/>
<g shape-rendering="crispEdges">
<rect x="3" y="31" width="1" height="7" fill="#1e90ff"/>
<rect x="2" y="35" width="3" height="1" fill="#1e90ff"/>
<rect x="7" y="33" width="1" height="9" fill="#ff0000"/>
<rect x="6" y="33" width="3" height="3" fill="#ff0000"/>
<rect x="11" y="28" width="1" height="21" fill="#ff0000"/>
<rect x="10" y="39" width="3" height="4" fill="#ff0000"/>
<rect x="15" y="35" width="1" height="20" fill="#ff0000"/>
<rect x="14" y="46" width="3" height="3" fill="#ff0000"/>
<rect x="19" y="46" width="1" height="18" fill="#ff0000"/>
<rect x="18" y="46" width="3" height="14" fill="#ff0000"/>
<rect x="23" y="52" width="1" height="14" fill="#ff0000"/>
<rect x="22" y="57" width="3" height="7" fill="#ff0000"/>
<rect x="27" y="50" width="1" height="16" fill="#1e90ff"/>
<rect x="26" y="50" width="3" height="12" fill="#1e90ff"/>
<rect x="31" y="46" width="1" height="21" fill="#ff0000"/>
<rect x="30" y="54" width="3" height="11" fill="#ff0000"/>
<rect x="35" y="48" width="1" height="18" fill="#1e90ff"/>
<rect x="34" y="52" width="3" height="10" fill="#1e90ff"/>
<rect x="39" y="48" width="1" height="21" fill="#1e90ff"/>
<rect x="38" y="52" width="3" height="4" fill="#1e90ff"/>
<rect x="43" y="46" width="1" height="21" fill="#1e90ff"/>
<rect x="42" y="50" width="3" height="5" fill="#1e90ff"/>
<rect x="47" y="24" width="1" height="29" fill="#1e90ff"/>
<rect x="46" y="39" width="3" height="10" fill="#1e90ff"/>
<rect x="51" y="35" width="1" height="20" fill="#1e90ff"/>
<rect x="50" y="37" width="3" height="1" fill="#1e90ff"/>
<rect x="55" y="29" width="1" height="24" fill="#ff0000"/>
<rect x="54" y="35" width="3" height="7" fill="#ff0000"/>
<rect x="59" y="37" width="1" height="16" fill="#ff0000"/>
<rect x="58" y="42" width="3" height="9" fill="#ff0000"/>
<rect x="63" y="41" width="1" height="21" fill="#ff0000"/>
<rect x="62" y="48" width="3" height="3" fill="#ff0000"/>
<rect x="67" y="46" width="1" height="16" fill="#1e90ff"/>
<rect x="66" y="46" width="3" height="7" fill="#1e90ff"/>
<rect x="71" y="42" width="1" height="16" fill="#ff0000"/>
<rect x="70" y="46" width="3" height="3" fill="#ff0000"/>
<rect x="75" y="44" width="1" height="11" fill="#ff0000"/>
<rect x="74" y="46" width="3" height="7" fill="#ff0000"/>
<rect x="79" y="48" width="1" height="8" fill="#ff0000"/>
<rect x="78" y="50" width="3" height="4" fill="#ff0000"/>
<rect x="83" y="52" width="1" height="6" fill="#ff0000"/>
<rect x="82" y="52" width="3" height="4" fill="#ff0000"/>
<rect x="87" y="52" width="1" height="8" fill="#ff0000"/>
<rect x="86" y="54" width="3" height="4" fill="#ff0000"/>
<rect x="91" y="54" width="1" height="6" fill="#ff0000"/>
<rect x="90" y="55" width="3" height="4" fill="#ff0000"/>
<rect x="95" y="55" width="1" height="11" fill="#ff0000"/>
<rect x="94" y="56" width="3" height="6" fill="#ff0000"/>
<rect x="99" y="54" width="1" height="8" fill="#1e90ff"/>
<rect x="98" y="56" width="3" height="4" fill="#1e90ff"/>
<rect x="103" y="52" width="1" height="14" fill="#1e90ff"/>
<rect x="102" y="58" width="3" height="1" fill="#1e90ff"/>
<rect x="107" y="57" width="1" height="23" fill="#ff0000"/>
<rect x="106" y="57" width="3" height="23" fill="#ff0000"/>
<rect x="111" y="59" width="1" height="24" fill="#1e90ff"/>
<rect x="110" y="70" width="3" height="8" fill="#1e90ff"/>
<rect x="115" y="72" width="1" height="44" fill="#ff0000"/>
<rect x="114" y="72" width="3" height="34" fill="#ff0000"/>
<rect x="119" y="107" width="1" height="36" fill="#ff0000"/>
<rect x="118" y="107" width="3" height="36" fill="#ff0000"/>
<rect x="123" y="137" width="1" height="27" fill="#1e90ff"/>
<rect x="122" y="139" width="3" height="3" fill="#1e90ff"/>
<rect x="127" y="128" width="1" height="32" fill="#1e90ff"/>
<rect x="126" y="129" width="3" height="13" fill="#1e90ff"/>
<rect x="131" y="126" width="1" height="42" fill="#ff0000"/>
<rect x="130" y="131" width="3" height="16" fill="#ff0000"/>
<rect x="135" y="139" width="1" height="42" fill="#ff0000"/>
<rect x="134" y="144" width="3" height="18" fill="#ff0000"/>
<rect x="139" y="159" width="1" height="20" fill="#1e90ff"/>
<rect x="138" y="161" width="3" height="5" fill="#1e90ff"/>
<rect x="143" y="159" width="1" height="16" fill="#ff0000"/>
<rect x="142" y="163" width="3" height="6" fill="#ff0000"/>
<rect x="147" y="165" width="1" height="19" fill="#ff0000"/>
<rect x="146" y="167" width="3" height="6" fill="#ff0000"/>
<rect x="151" y="168" width="1" height="25" fill="#ff0000"/>
<rect x="150" y="170" width="3" height="20" fill="#ff0000"/>
<rect x="155" y="172" width="1" height="23" fill="#1e90ff"/>
<rect x="154" y="180" width="3" height="8" fill="#1e90ff"/>
<rect x="159" y="165" width="1" height="28" fill="#ff0000"/>
<rect x="158" y="181" width="3" height="9" fill="#ff0000"/>
<rect x="163" y="183" width="1" height="23" fill="#ff0000"/>
<rect x="162" y="191" width="3" height="14" fill="#ff0000"/>
<rect x="167" y="187" width="1" height="19" fill="#1e90ff"/>
<rect x="166" y="194" width="3" height="12" fill="#1e90ff"/>
<rect x="171" y="182" width="1" height="15" fill="#1e90ff"/>
<rect x="170" y="189" width="3" height="4" fill="#1e90ff"/>
<rect x="175" y="178" width="1" height="15" fill="#1e90ff"/>
<rect x="174" y="185" width="3" height="8" fill="#1e90ff"/>
<rect x="179" y="183" width="1" height="14" fill="#ff0000"/>
<rect x="178" y="187" width="3" height="6" fill="#ff0000"/>
<rect x="183" y="181" width="1" height="16" fill="#1e90ff"/>
<rect x="182" y="187" width="3" height="8" fill="#1e90ff"/>
<rect x="187" y="178" width="1" height="12" fill="#1e90ff"/>
<rect x="186" y="183" width="3" height="3" fill="#1e90ff"/>
<rect x="191" y="170" width="1" height="16" fill="#1e90ff"/>
<rect x="190" y="174" width="3" height="8" fill="#1e90ff"/>
<rect x="195" y="165" width="1" height="12" fill="#ff0000"/>
<rect x="194" y="172" width="3" height="3" fill="#ff0000"/>
<rect x="199" y="163" width="1" height="14" fill="#1e90ff"/>
<rect x="198" y="170" width="3" height="1" fill="#1e90ff"/>
<rect x="203" y="163" width="1" height="27" fill="#ff0000"/>
<rect x="202" y="172" width="3" height="5" fill="#ff0000"/>
<rect x="207" y="172" width="1" height="18" fill="#ff0000"/>
<rect x="206" y="174" width="3" height="14" fill="#ff0000"/>
<rect x="211" y="183" width="1" height="22" fill="#ff0000"/>
<rect x="210" y="183" width="3" height="7" fill="#ff0000"/>
<rect x="215" y="168" width="1" height="24" fill="#1e90ff"/>
<rect x="214" y="178" width="3" height="9" fill="#1e90ff"/>
<rect x="219" y="161" width="1" height="25" fill="#1e90ff"/>
<rect x="218" y="165" width="3" height="12" fill="#1e90ff"/>
<rect x="223" y="157" width="1" height="20" fill="#1e90ff"/>
<rect x="222" y="159" width="3" height="5" fill="#1e90ff"/>
<rect x="227" y="135" width="1" height="57" fill="#ff0000"/>
<rect x="226" y="161" width="3" height="21" fill="#ff0000"/>
<rect x="231" y="141" width="1" height="43" fill="#1e90ff"/>
<rect x="230" y="142" width="3" height="37" fill="#1e90ff"/>
<rect x="235" y="139" width="1" height="25" fill="#ff0000"/>
<rect x="234" y="141" width="3" height="8" fill="#ff0000"/>
<rect x="239" y="142" width="1" height="55" fill="#ff0000"/>
<rect x="238" y="150" width="3" height="31" fill="#ff0000"/>
<rect x="243" y="172" width="1" height="29" fill="#ff0000"/>
<rect x="242" y="181" width="3" height="14" fill="#ff0000"/>
<rect x="247" y="187" width="1" height="19" fill="#ff0000"/>
<rect x="246" y="192" width="3" height="7" fill="#ff0000"/>
<rect x="251" y="180" width="1" height="26" fill="#ff0000"/>
<rect x="250" y="196" width="3" height="3" fill="#ff0000"/>
<rect x="255" y="170" width="1" height="31" fill="#1e90ff"/>
<rect x="254" y="172" width="3" height="25" fill="#1e90ff"/>
<rect x="259" y="163" width="1" height="16" fill="#1e90ff"/>
<rect x="258" y="170" width="3" height="5" fill="#1e90ff"/>
<rect x="263" y="161" width="1" height="23" fill="#1e90ff"/>
<rect x="262" y="170" width="3" height="3" fill="#1e90ff"/>
<rect x="267" y="157" width="1" height="18" fill="#1e90ff"/>
<rect x="266" y="165" width="3" height="8" fill="#1e90ff"/>
<rect x="271" y="155" width="1" height="13" fill="#1e90ff"/>
<rect x="270" y="163" width="3" height="5" fill="#1e90ff"/>
<rect x="275" y="161" width="1" height="12" fill="#1e90ff"/>
<rect x="274" y="161" width="3" height="1" fill="#1e90ff"/>
<rect x="279" y="157" width="1" height="20" fill="#1e90ff"/>
<rect x="278" y="157" width="3" height="7" fill="#1e90ff"/>
<rect x="283" y="148" width="1" height="12" fill="#1e90ff"/>
<rect x="282" y="148" width="3" height="12" fill="#1e90ff"/>
<rect x="287" y="148" width="1" height="5" fill="#1e90ff"/>
<rect x="286" y="148" width="3" height="2" fill="#1e90ff"/>
<rect x="291" y="146" width="1" height="9" fill="#ff0000"/>
<rect x="290" y="146" width="3" height="9" fill="#ff0000"/>
<rect x="295" y="152" width="1" height="9" fill="#1e90ff"/>
<rect x="294" y="154" width="3" height="2" fill="#1e90ff"/>
<rect x="299" y="148" width="1" height="18" fill="#ff0000"/>
<rect x="298" y="152" width="3" height="4" fill="#ff0000"/>
<rect x="303" y="144" width="1" height="12" fill="#1e90ff"/>
<rect x="302" y="152" width="3" height="3" fill="#1e90ff"/>
<rect x="307" y="148" width="1" height="25" fill="#ff0000"/>
<rect x="306" y="150" width="3" height="16" fill="#ff0000"/>
<rect x="311" y="148" width="1" height="18" fill="#1e90ff"/>
<rect x="310" y="152" width="3" height="12" fill="#1e90ff"/>
<rect x="315" y="135" width="1" height="18" fill="#1e90ff"/>
<rect x="314" y="137" width="3" height="14" fill="#1e90ff"/>
<rect x="319" y="131" width="1" height="25" fill="#1e90ff"/>
<rect x="318" y="131" width="3" height="9" fill="#1e90ff"/>
<rect x="323" y="107" width="1" height="27" fill="#1e90ff"/>
<rect x="322" y="118" width="3" height="16" fill="#1e90ff"/>
<rect x="327" y="115" width="1" height="17" fill="#ff0000"/>
<rect x="326" y="120" width="3" height="7" fill="#ff0000"/>
<rect x="331" y="124" width="1" height="27" fill="#ff0000"/>
<rect x="330" y="124" width="3" height="21" fill="#ff0000"/>
<rect x="335" y="141" width="1" height="32" fill="#ff0000"/>
<rect x="334" y="146" width="3" height="20" fill="#ff0000"/>
<rect x="339" y="154" width="1" height="34" fill="#ff0000"/>
<rect x="338" y="163" width="3" height="14" fill="#ff0000"/>
<rect x="343" y="161" width="1" height="21" fill="#1e90ff"/>
<rect x="342" y="165" width="3" height="14" fill="#1e90ff"/>
<rect x="347" y="152" width="1" height="15" fill="#1e90ff"/>
<rect x="346" y="161" width="3" height="1" fill="#1e90ff"/>
<rect x="351" y="157" width="1" height="22" fill="#ff0000"/>
<rect x="350" y="159" width="3" height="16" fill="#ff0000"/>
<rect x="355" y="169" width="1" height="13" fill="#ff0000"/>
<rect x="354" y="172" width="3" height="10" fill="#ff0000"/>
<rect x="359" y="169" width="1" height="15" fill="#1e90ff"/>
<rect x="358" y="170" width="3" height="11" fill="#1e90ff"/>
<rect x="363" y="161" width="1" height="12" fill="#1e90ff"/>
<rect x="362" y="165" width="3" height="4" fill="#1e90ff"/>
<rect x="367" y="157" width="1" height="11" fill="#1e90ff"/>
<rect x="366" y="163" width="3" height="3" fill="#1e90ff"/>
<rect x="371" y="161" width="1" height="14" fill="#ff0000"/>
<rect x="370" y="166" width="3" height="7" fill="#ff0000"/>
<rect x="375" y="157" width="1" height="16" fill="#1e90ff"/>
<rect x="374" y="163" width="3" height="8" fill="#1e90ff"/>
<rect x="379" y="161" width="1" height="20" fill="#ff0000"/>
<rect x="378" y="165" width="3" height="10" fill="#ff0000"/>
<rect x="383" y="167" width="1" height="10" fill="#1e90ff"/>
<rect x="382" y="172" width="3" height="5" fill="#1e90ff"/>
<rect x="387" y="168" width="1" height="14" fill="#1e90ff"/>
<rect x="386" y="172" width="3" height="3" fill="#1e90ff"/>
<rect x="391" y="163" width="1" height="21" fill="#ff0000"/>
<rect x="390" y="176" width="3" height="4" fill="#ff0000"/>
<rect x="395" y="161" width="1" height="21" fill="#1e90ff"/>
<rect x="394" y="172" width="3" height="9" fill="#1e90ff"/>
<rect x="399" y="161" width="1" height="14" fill="#1e90ff"/>
<rect x="398" y="167" width="3" height="4" fill="#1e90ff"/>
<rect x="403" y="146" width="1" height="23" fill="#1e90ff"/>
<rect x="402" y="152" width="3" height="13" fill="#1e90ff"/>
<rect x="407" y="141" width="1" height="12" fill="#1e90ff"/>
<rect x="406" y="144" width="3" height="5" fill="#1e90ff"/>
<rect x="411" y="141" width="1" height="30" fill="#ff0000"/>
<rect x="410" y="146" width="3" height="21" fill="#ff0000"/>
<rect x="415" y="165" width="1" height="16" fill="#ff0000"/>
<rect x="414" y="165" width="3" height="10" fill="#ff0000"/>
<rect x="419" y="87" width="1" height="99" fill="#1e90ff"/>
<rect x="418" y="135" width="3" height="42" fill="#1e90ff"/>
<rect x="423" y="115" width="1" height="25" fill="#1e90ff"/>
<rect x="422" y="126" width="3" height="14" fill="#1e90ff"/>
<rect x="427" y="124" width="1" height="95" fill="#ff0000"/>
<rect x="426" y="124" width="3" height="34" fill="#ff0000"/>
<rect x="431" y="135" width="1" height="31" fill="#1e90ff"/>
<rect x="430" y="150" width="3" height="10" fill="#1e90ff"/>
<rect x="435" y="124" width="1" height="36" fill="#1e90ff"/>
<rect x="434" y="131" width="3" height="18" fill="#1e90ff"/>
<rect x="439" y="126" width="1" height="25" fill="#ff0000"/>
<rect x="438" y="135" width="3" height="11" fill="#ff0000"/>
<rect x="443" y="137" width="1" height="18" fill="#1e90ff"/>
<rect x="442" y="140" width="3" height="1" fill="#1e90ff"/>
<rect x="447" y="124" width="1" height="23" fill="#1e90ff"/>
<rect x="446" y="139" width="3" height="4" fill="#1e90ff"/>
<rect x="451" y="128" width="1" height="25" fill="#ff0000"/>
<rect x="450" y="141" width="3" height="10" fill="#ff0000"/>
<rect x="455" y="129" width="1" height="16" fill="#1e90ff"/>
<rect x="454" y="135" width="3" height="8" fill="#1e90ff"/>
<rect x="459" y="129" width="1" height="14" fill="#ff0000"/>
<rect x="458" y="133" width="3" height="10" fill="#ff0000"/>
<rect x="463" y="129" width="1" height="25" fill="#1e90ff"/>
<rect x="462" y="135" width="3" height="5" fill="#1e90ff"/>
<rect x="467" y="128" width="1" height="25" fill="#ff0000"/>
<rect x="466" y="131" width="3" height="14" fill="#ff0000"/>
<rect x="471" y="139" width="1" height="19" fill="#ff0000"/>
<rect x="470" y="148" width="3" height="6" fill="#ff0000"/>
<rect x="475" y="148" width="1" height="8" fill="#1e90ff"/>
<rect x="474" y="150" width="3" height="1" fill="#1e90ff"/>
<rect x="479" y="146" width="1" height="12" fill="#ff0000"/>
<rect x="478" y="152" width="3" height="1" fill="#ff0000"/>
<rect x="483" y="152" width="1" height="10" fill="#ff0000"/>
<rect x="482" y="153" width="3" height="9" fill="#ff0000"/>
<rect x="487" y="157" width="1" height="25" fill="#ff0000"/>
<rect x="486" y="163" width="3" height="16" fill="#ff0000"/>
<rect x="491" y="159" width="1" height="22" fill="#1e90ff"/>
<rect x="490" y="170" width="3" height="11" fill="#1e90ff"/>
<rect x="495" y="156" width="1" height="15" fill="#1e90ff"/>
<rect x="494" y="165" width="3" height="3" fill="#1e90ff"/>
<rect x="499" y="144" width="1" height="24" fill="#1e90ff"/>
<rect x="498" y="150" width="3" height="12" fill="#1e90ff"/>
<rect x="503" y="141" width="1" height="13" fill="#1e90ff"/>
<rect x="502" y="141" width="3" height="12" fill="#1e90ff"/>
<rect x="507" y="124" width="1" height="21" fill="#1e90ff"/>
<rect x="506" y="128" width="3" height="17" fill="#1e90ff"/>
<rect x="511" y="118" width="1" height="16" fill="#1e90ff"/>
<rect x="510" y="122" width="3" height="8" fill="#1e90ff"/>
<rect x="515" y="117" width="1" height="36" fill="#ff0000"/>
<rect x="514" y="120" width="3" height="31" fill="#ff0000"/>
<rect x="519" y="137" width="1" height="38" fill="#ff0000"/>
<rect x="518" y="148" width="3" height="21" fill="#ff0000"/>
<rect x="523" y="161" width="1" height="29" fill="#ff0000"/>
<rect x="522" y="165" width="3" height="17" fill="#ff0000"/>
<rect x="527" y="176" width="1" height="12" fill="#1e90ff"/>
<rect x="526" y="180" width="3" height="4" fill="#1e90ff"/>
<rect x="531" y="174" width="1" height="21" fill="#ff0000"/>
<rect x="530" y="178" width="3" height="8" fill="#ff0000"/>
<rect x="535" y="178" width="1" height="17" fill="#ff0000"/>
<rect x="534" y="183" width="3" height="7" fill="#ff0000"/>
<rect x="539" y="180" width="1" height="10" fill="#ff0000"/>
<rect x="538" y="185" width="3" height="5" fill="#ff0000"/>
<rect x="543" y="174" width="1" height="18" fill="#1e90ff"/>
<rect x="542" y="183" width="3" height="3" fill="#1e90ff"/>
<rect x="547" y="178" width="1" height="10" fill="#ff0000"/>
<rect x="546" y="181" width="3" height="3" fill="#ff0000"/>
<rect x="551" y="172" width="1" height="14" fill="#1e90ff"/>
<rect x="550" y="174" width="3" height="7" fill="#1e90ff"/>
<rect x="555" y="170" width="1" height="9" fill="#1e90ff"/>
<rect x="554" y="176" width="3" height="1" fill="#1e90ff"/>
<rect x="559" y="170" width="1" height="11" fill="#ff0000"/>
<rect x="558" y="174" width="3" height="3" fill="#ff0000"/>
<rect x="563" y="172" width="1" height="9" fill="#ff0000"/>
<rect x="562" y="174" width="3" height="7" fill="#ff0000"/>
<rect x="567" y="174" width="1" height="10" fill="#ff0000"/>
<rect x="566" y="178" width="3" height="3" fill="#ff0000"/>
<rect x="571" y="178" width="1" height="6" fill="#ff0000"/>
<rect x="570" y="178" width="3" height="4" fill="#ff0000"/>
<rect x="575" y="176" width="1" height="19" fill="#ff0000"/>
<rect x="574" y="180" width="3" height="13" fill="#ff0000"/>
<rect x="579" y="185" width="1" height="10" fill="#1e90ff"/>
<rect x="578" y="187" width="3" height="3" fill="#1e90ff"/>
<rect x="583" y="187" width="1" height="12" fill="#ff0000"/>
<rect x="582" y="189" width="3" height="6" fill="#ff0000"/>
<rect x="587" y="189" width="1" height="19" fill="#ff0000"/>
<rect x="586" y="192" width="3" height="9" fill="#ff0000"/>
<rect x="591" y="180" width="1" height="25" fill="#1e90ff"/>
<rect x="590" y="187" width="3" height="12" fill="#1e90ff"/>
<rect x="595" y="183" width="1" height="23" fill="#ff0000"/>
<rect x="594" y="183" width="3" height="22" fill="#ff0000"/>
<rect x="599" y="198" width="1" height="23" fill="#ff0000"/>
<rect x="598" y="200" width="3" height="16" fill="#ff0000"/>
<rect x="603" y="213" width="1" height="30" fill="#ff0000"/>
<rect x="602" y="213" width="3" height="19" fill="#ff0000"/>
<rect x="607" y="231" width="1" height="44" fill="#ff0000"/>
<rect x="606" y="237" width="3" height="29" fill="#ff0000"/>
<rect x="611" y="255" width="1" height="35" fill="#ff0000"/>
<rect x="610" y="263" width="3" height="14" fill="#ff0000"/>
<rect x="615" y="268" width="1" height="38" fill="#ff0000"/>
<rect x="614" y="274" width="3" height="23" fill="#ff0000"/>
<rect x="619" y="289" width="1" height="17" fill="#ff0000"/>
<rect x="618" y="294" width="3" height="9" fill="#ff0000"/>
<rect x="623" y="298" width="1" height="23" fill="#ff0000"/>
<rect x="622" y="300" width="3" height="6" fill="#ff0000"/>
<rect x="627" y="302" width="1" height="19" fill="#ff0000"/>
<rect x="626" y="304" width="3" height="12" fill="#ff0000"/>
<rect x="631" y="302" width="1" height="19" fill="#ff0000"/>
<rect x="630" y="313" width="3" height="6" fill="#ff0000"/>
<rect x="635" y="311" width="1" height="23" fill="#ff0000"/>
<rect x="634" y="317" width="3" height="8" fill="#ff0000"/>
<rect x="639" y="294" width="1" height="31" fill="#1e90ff"/>
<rect x="638" y="296" width="3" height="27" fill="#1e90ff"/>
<rect x="643" y="287" width="1" height="21" fill="#1e90ff"/>
<rect x="642" y="294" width="3" height="1" fill="#1e90ff"/>
<rect x="647" y="293" width="1" height="12" fill="#ff0000"/>
<rect x="646" y="296" width="3" height="3" fill="#ff0000"/>
<rect x="651" y="293" width="1" height="13" fill="#ff0000"/>
<rect x="650" y="296" width="3" height="7" fill="#ff0000"/>
<rect x="655" y="298" width="1" height="10" fill="#ff0000"/>
<rect x="654" y="300" width="3" height="5" fill="#ff0000"/>
<rect x="659" y="293" width="1" height="15" fill="#1e90ff"/>
<rect x="658" y="296" width="3" height="7" fill="#1e90ff"/>
<rect x="663" y="291" width="1" height="15" fill="#ff0000"/>
<rect x="662" y="294" width="3" height="12" fill="#ff0000"/>
<rect x="667" y="302" width="1" height="6" fill="#ff0000"/>
<rect x="666" y="304" width="3" height="2" fill="#ff0000"/>
<rect x="671" y="298" width="1" height="10" fill="#ff0000"/>
<rect x="670" y="302" width="3" height="6" fill="#ff0000"/>
<rect x="675" y="304" width="1" height="14" fill="#ff0000"/>
<rect x="674" y="305" width="3" height="11" fill="#ff0000"/>
<rect x="679" y="309" width="1" height="18" fill="#ff0000"/>
<rect x="678" y="311" width="3" height="8" fill="#ff0000"/>
<rect x="683" y="313" width="1" height="16" fill="#1e90ff"/>
<rect x="682" y="320" width="3" height="1" fill="#1e90ff"/>
<rect x="687" y="304" width="1" height="27" fill="#1e90ff"/>
<rect x="686" y="313" width="3" height="10" fill="#1e90ff"/>
<rect x="691" y="304" width="1" height="17" fill="#ff0000"/>
<rect x="690" y="309" width="3" height="5" fill="#ff0000"/>
<rect x="695" y="304" width="1" height="17" fill="#ff0000"/>
<rect x="694" y="311" width="3" height="5" fill="#ff0000"/>
<rect x="699" y="304" width="1" height="20" fill="#1e90ff"/>
<rect x="698" y="309" width="3" height="5" fill="#1e90ff"/>
<rect x="703" y="278" width="1" height="34" fill="#1e90ff"/>
<rect x="702" y="289" width="3" height="17" fill="#1e90ff"/>
<rect x="707" y="274" width="1" height="21" fill="#1e90ff"/>
<rect x="706" y="285" width="3" height="3" fill="#1e90ff"/>
<rect x="711" y="268" width="1" height="46" fill="#1e90ff"/>
<rect x="710" y="283" width="3" height="1" fill="#1e90ff"/>
<rect x="715" y="278" width="1" height="27" fill="#ff0000"/>
<rect x="714" y="281" width="3" height="13" fill="#ff0000"/>
<rect x="719" y="281" width="1" height="18" fill="#1e90ff"/>
<rect x="718" y="285" width="3" height="10" fill="#1e90ff"/>
<rect x="723" y="281" width="1" height="18" fill="#ff0000"/>
<rect x="722" y="283" width="3" height="7" fill="#ff0000"/>
<rect x="727" y="283" width="1" height="16" fill="#ff0000"/>
<rect x="726" y="285" width="3" height="10" fill="#ff0000"/>
<rect x="731" y="287" width="1" height="16" fill="#ff0000"/>
<rect x="730" y="293" width="3" height="4" fill="#ff0000"/>
<rect x="735" y="283" width="1" height="20" fill="#1e90ff"/>
<rect x="734" y="285" width="3" height="14" fill="#1e90ff"/>
<rect x="739" y="280" width="1" height="14" fill="#ff0000"/>
<rect x="738" y="287" width="3" height="3" fill="#ff0000"/>
<rect x="743" y="280" width="1" height="14" fill="#1e90ff"/>
<rect x="742" y="289" width="3" height="3" fill="#1e90ff"/>
<rect x="747" y="285" width="1" height="9" fill="#ff0000"/>
<rect x="746" y="287" width="3" height="5" fill="#ff0000"/>
</g>
<g shape-rendering="crispEdges" fill="#ff0000">
<rect x="3" y="65" width="9" height="2"/>
<rect x="11" y="64" width="10" height="2"/>
<rect x="20" y="63" width="16" height="2"/>
<rect x="35" y="62" width="11" height="2"/>
<rect x="45" y="61" width="11" height="2"/>
<rect x="55" y="60" width="11" height="2"/>
<rect x="65" y="59" width="11" height="2"/>
<rect x="75" y="58" width="21" height="2"/>
<rect x="95" y="57" width="28" height="2"/>
<rect x="122" y="58" width="13" height="2"/>
<rect x="134" y="59" width="10" height="2"/>
<rect x="143" y="60" width="11" height="2"/>
<rect x="153" y="61" width="10" height="2"/>
<rect x="162" y="62" width="11" height="2"/>
<rect x="172" y="63" width="10" height="2"/>
<rect x="181" y="64" width="11" height="2"/>
<rect x="191" y="65" width="10" height="2"/>
<rect x="200" y="66" width="10" height="2"/>
<rect x="209" y="67" width="10" height="2"/>
<rect x="218" y="68" width="10" height="2"/>
<rect x="227" y="69" width="10" height="2"/>
<rect x="236" y="70" width="9" height="2"/>
<rect x="244" y="71" width="8" height="2"/>
<rect x="251" y="72" width="7" height="2"/>
<rect x="257" y="73" width="8" height="2"/>
<rect x="264" y="74" width="9" height="2"/>
<rect x="272" y="75" width="11" height="2"/>
<rect x="282" y="76" width="11" height="2"/>
<rect x="292" y="77" width="11" height="2"/>
<rect x="302" y="78" width="11" height="2"/>
<rect x="312" y="79" width="9" height="2"/>
<rect x="320" y="80" width="9" height="2"/>
<rect x="328" y="81" width="9" height="2"/>
<rect x="336" y="82" width="9" height="2"/>
<rect x="344" y="83" width="9" height="2"/>
<rect x="352" y="84" width="9" height="2"/>
<rect x="360" y="85" width="9" height="2"/>
<rect x="368" y="86" width="9" height="2"/>
<rect x="376" y="87" width="9" height="2"/>
<rect x="384" y="88" width="9" height="2"/>
<rect x="392" y="89" width="9" height="2"/>
<rect x="400" y="90" width="9" height="2"/>
<rect x="408" y="91" width="9" height="2"/>
<rect x="416" y="92" width="11" height="2"/>
<rect x="426" y="93" width="12" height="2"/>
<rect x="437" y="94" width="11" height="2"/>
<rect x="447" y="95" width="11" height="2"/>
<rect x="457" y="96" width="9" height="2"/>
<rect x="465" y="97" width="8" height="2"/>
<rect x="472" y="98" width="9" height="2"/>
<rect x="480" y="99" width="9" height="2"/>
<rect x="488" y="100" width="9" height="2"/>
<rect x="496" y="101" width="9" height="2"/>
<rect x="504" y="102" width="9" height="2"/>
<rect x="512" y="103" width="6" height="2"/>
<rect x="517" y="104" width="7" height="2"/>
<rect x="523" y="105" width="7" height="2"/>
<rect x="529" y="106" width="7" height="2"/>
<rect x="535" y="107" width="6" height="2"/>
<rect x="540" y="108" width="7" height="2"/>
<rect x="546" y="109" width="7" height="2"/>
<rect x="552" y="110" width="6" height="2"/>
<rect x="557" y="111" width="7" height="2"/>
<rect x="563" y="112" width="8" height="2"/>
<rect x="570" y="113" width="7" height="2"/>
<rect x="576" y="114" width="6" height="2"/>
<rect x="581" y="115" width="6" height="2"/>
<rect x="586" y="116" width="6" height="2"/>
<rect x="591" y="117" width="6" height="2"/>
<rect x="596" y="118" width="5" height="2"/>
<rect x="600" y="119" width="5" height="2"/>
<rect x="604" y="120" width="6" height="2"/>
<rect x="609" y="121" width="5" height="2"/>
<rect x="613" y="122" width="3" height="2"/>
<rect x="615" y="123" width="4" height="2"/>
<rect x="618" y="124" width="4" height="2"/>
<rect x="621" y="125" width="4" height="2"/>
<rect x="624" y="126" width="4" height="2"/>
<rect x="627" y="127" width="4" height="2"/>
<rect x="630" y="128" width="4" height="2"/>
<rect x="633" y="129" width="4" height="2"/>
<rect x="636" y="130" width="5" height="2"/>
<rect x="640" y="131" width="3" height="2"/>
<rect x="642" y="132" width="4" height="2"/>
<rect x="645" y="133" width="3" height="2"/>
<rect x="647" y="134" width="7" height="2"/>
<rect x="653" y="135" width="5" height="2"/>
<rect x="657" y="136" width="3" height="2"/>
<rect x="659" y="137" width="3" height="2"/>
<rect x="661" y="138" width="3" height="2"/>
<rect x="663" y="139" width="4" height="2"/>
<rect x="666" y="140" width="3" height="2"/>
<rect x="668" y="141" width="4" height="2"/>
<rect x="671" y="142" width="5" height="2"/>
<rect x="675" y="143" width="6" height="2"/>
<rect x="680" y="144" width="3" height="2"/>
<rect x="682" y="145" width="4" height="2"/>
<rect x="685" y="146" width="3" height="2"/>
<rect x="687" y="147" width="4" height="2"/>
<rect x="690" y="148" width="3" height="2"/>
<rect x="692" y="149" width="4" height="2"/>
<rect x="695" y="150" width="5" height="2"/>
<rect x="699" y="151" width="5" height="2"/>
<rect x="703" y="152" width="6" height="2"/>
<rect x="708" y="153" width="5" height="2"/>
<rect x="712" y="154" width="3" height="2"/>
<rect x="714" y="155" width="3" height="2"/>
<rect x="716" y="156" width="5" height="2"/>
<rect x="720" y="157" width="5" height="2"/>
<rect x="724" y="158" width="4" height="2"/>
<rect x="727" y="159" width="3" height="2"/>
<rect x="729" y="160" width="4" height="2"/>
<rect x="732" y="161" width="4" height="2"/>
<rect x="735" y="162" width="5" height="2"/>
<rect x="739" y="163" width="5" height="2"/>
<rect x="743" y="164" width="5" height="2"/>
</g>
<g shape-rendering="crispEdges" fill="#0000ff">
<rect x="3" y="43" width="17" height="2"/>
<rect x="19" y="44" width="83" height="2"/>
<rect x="101" y="45" width="13" height="2"/>
<rect x="113" y="46" width="3" height="2"/>
<rect x="115" y="47" width="3" height="2"/>
<rect x="117" y="48" width="3" height="2"/>
<rect x="119" y="49" width="3" height="2"/>
<rect x="121" y="50" width="4" height="2"/>
<rect x="124" y="51" width="3" height="2"/>
<rect x="126" y="52" width="3" height="2"/>
<rect x="128" y="53" width="3" height="2"/>
<rect x="130" y="54" width="3" height="2"/>
<rect x="132" y="55" width="2" height="2"/>
<rect x="133" y="56" width="3" height="2"/>
<rect x="135" y="57" width="3" height="2"/>
<rect x="137" y="58" width="2" height="2"/>
<rect x="138" y="59" width="3" height="2"/>
<rect x="140" y="60" width="3" height="2"/>
<rect x="142" y="61" width="2" height="2"/>
<rect x="143" y="62" width="3" height="2"/>
<rect x="145" y="63" width="3" height="2"/>
<rect x="147" y="64" width="2" height="2"/>
<rect x="148" y="65" width="2" height="2"/>
<rect x="149" y="66" width="2" height="2"/>
<rect x="150" y="67" width="3" height="2"/>
<rect x="152" y="68" width="2" height="2"/>
<rect x="153" y="69" width="2" height="2"/>
<rect x="154" y="70" width="2" height="2"/>
<rect x="155" y="71" width="2" height="2"/>
<rect x="156" y="72" width="3" height="2"/>
<rect x="158" y="73" width="2" height="2"/>
<rect x="159" y="74" width="2" height="2"/>
<rect x="160" y="75" width="2" height="2"/>
<rect x="161" y="76" width="2" height="2"/>
<rect x="162" y="77" width="3" height="2"/>
<rect x="164" y="78" width="2" height="2"/>
<rect x="165" y="79" width="3" height="2"/>
<rect x="167" y="80" width="3" height="2"/>
<rect x="169" y="81" width="3" height="2"/>
<rect x="171" y="82" width="2" height="2"/>
<rect x="172" y="83" width="2" height="2"/>
<rect x="173" y="84" width="3" height="2"/>
<rect x="175" y="85" width="2" height="2"/>
<rect x="176" y="86" width="2" height="2"/>
<rect x="177" y="87" width="2" height="2"/>
<rect x="178" y="88" width="2" height="2"/>
<rect x="179" y="89" width="2" height="2"/>
<rect x="180" y="90" width="2" height="2"/>
<rect x="181" y="91" width="2" height="2"/>
<rect x="182" y="92" width="2" height="2"/>
<rect x="183" y="93" width="2" height="2"/>
<rect x="184" y="94" width="3" height="2"/>
<rect x="186" y="95" width="2" height="2"/>
<rect x="187" y="96" width="3" height="2"/>
<rect x="189" y="97" width="2" height="2"/>
<rect x="190" y="98" width="3" height="2"/>
<rect x="192" y="99" width="2" height="2"/>
<rect x="193" y="100" width="3" height="2"/>
<rect x="195" y="101" width="2" height="2"/>
<rect x="196" y="102" width="2" height="2"/>
<rect x="197" y="103" width="3" height="2"/>
<rect x="199" y="104" width="2" height="2"/>
<rect x="200" y="105" width="3" height="2"/>
<rect x="202" y="106" width="2" height="2"/>
<rect x="203" y="107" width="3" height="2"/>
<rect x="205" y="108" width="2" height="2"/>
<rect x="206" y="109" width="3" height="2"/>
<rect x="208" y="110" width="2" height="2"/>
<rect x="209" y="111" width="3" height="2"/>
<rect x="211" y="112" width="3" height="2"/>
<rect x="213" y="113" width="3" height="2"/>
<rect x="215" y="114" width="3" height="2"/>
<rect x="217" y="115" width="3" height="2"/>
<rect x="219" y="116" width="3" height="2"/>
<rect x="221" y="117" width="3" height="2"/>
<rect x="223" y="118" width="3" height="2"/>
<rect x="225" y="119" width="2" height="2"/>
<rect x="226" y="120" width="3" height="2"/>
<rect x="228" y="121" width="3" height="2"/>
<rect x="230" y="122" width="2" height="2"/>
<rect x="231" y="123" width="3" height="2"/>
<rect x="233" y="124" width="3" height="2"/>
<rect x="235" y="125" width="2" height="2"/>
<rect x="236" y="126" width="2" height="2"/>
<rect x="237" y="127" width="3" height="2"/>
<rect x="239" y="128" width="2" height="2"/>
<rect x="240" y="129" width="3" height="2"/>
<rect x="242" y="130" width="2" height="2"/>
<rect x="243" y="131" width="2" height="2"/>
<rect x="244" y="132" width="3" height="2"/>
<rect x="246" y="133" width="2" height="2"/>
<rect x="247" y="134" width="3" height="2"/>
<rect x="249" y="135" width="2" height="2"/>
<rect x="250" y="136" width="2" height="2"/>
<rect x="251" y="137" width="3" height="2"/>
<rect x="253" y="138" width="3" height="2"/>
<rect x="255" y="139" width="2" height="2"/>
<rect x="256" y="140" width="3" height="2"/>
<rect x="258" y="141" width="3" height="2"/>
<rect x="260" y="142" width="2" height="2"/>
<rect x="261" y="143" width="3" height="2"/>
<rect x="263" y="144" width="3" height="2"/>
<rect x="265" y="145" width="2" height="2"/>
<rect x="266" y="146" width="3" height="2"/>
<rect x="268" y="147" width="3" height="2"/>
<rect x="270" y="148" width="3" height="2"/>
<rect x="272" y="149" width="2" height="2"/>
<rect x="273" y="150" width="3" height="2"/>
<rect x="275" y="151" width="3" height="2"/>
<rect x="277" y="152" width="3" height="2"/>
<rect x="279" y="153" width="2" height="2"/>
<rect x="280" y="154" width="3" height="2"/>
<rect x="282" y="155" width="4" height="2"/>
<rect x="285" y="156" width="3" height="2"/>
<rect x="287" y="157" width="3" height="2"/>
<rect x="289" y="158" width="3" height="2"/>
<rect x="291" y="159" width="3" height="2"/>
<rect x="293" y="160" width="3" height="2"/>
<rect x="295" y="161" width="3" height="2"/>
<rect x="297" y="162" width="3" height="2"/>
<rect x="299" y="163" width="3" height="2"/>
<rect x="301" y="164" width="3" height="2"/>
<rect x="303" y="165" width="3" height="2"/>
<rect x="305" y="166" width="3" height="2"/>
<rect x="307" y="167" width="5" height="2"/>
<rect x="311" y="168" width="12" height="2"/>
<rect x="322" y="167" width="12" height="2"/>
<rect x="333" y="168" width="6" height="2"/>
<rect x="338" y="167" width="26" height="2"/>
<rect x="363" y="166" width="4" height="2"/>
<rect x="366" y="165" width="15" height="2"/>
<rect x="380" y="164" width="24" height="2"/>
<rect x="403" y="163" width="5" height="2"/>
<rect x="407" y="162" width="11" height="2"/>
<rect x="417" y="161" width="7" height="2"/>
<rect x="423" y="160" width="17" height="2"/>
<rect x="439" y="159" width="5" height="2"/>
<rect x="443" y="158" width="5" height="2"/>
<rect x="447" y="157" width="4" height="2"/>
<rect x="450" y="156" width="5" height="2"/>
<rect x="454" y="155" width="6" height="2"/>
<rect x="459" y="154" width="8" height="2"/>
<rect x="466" y="153" width="18" height="2"/>
<rect x="483" y="154" width="26" height="2"/>
<rect x="508" y="153" width="9" height="2"/>
<rect x="516" y="154" width="5" height="2"/>
<rect x="520" y="155" width="5" height="2"/>
<rect x="524" y="156" width="5" height="2"/>
<rect x="528" y="157" width="9" height="2"/>
<rect x="536" y="158" width="15" height="2"/>
<rect x="550" y="159" width="19" height="2"/>
<rect x="568" y="160" width="17" height="2"/>
<rect x="584" y="161" width="9" height="2"/>
<rect x="592" y="162" width="6" height="2"/>
<rect x="597" y="163" width="5" height="2"/>
<rect x="601" y="164" width="4" height="2"/>
<rect x="604" y="165" width="2" height="2"/>
<rect x="605" y="166" width="2" height="2"/>
<rect x="606" y="167" width="3" height="2"/>
<rect x="608" y="168" width="3" height="2"/>
<rect x="610" y="169" width="3" height="2"/>
<rect x="612" y="170" width="3" height="2"/>
<rect x="614" y="171" width="3" height="2"/>
<rect x="616" y="172" width="2" height="2"/>
<rect x="617" y="173" width="2" height="2"/>
<rect x="618" y="174" width="2" height="2"/>
<rect x="619" y="175" width="2" height="2"/>
<rect x="620" y="176" width="2" height="2"/>
<rect x="621" y="177" width="2" height="2"/>
<rect x="622" y="178" width="2" height="2"/>
<rect x="623" y="179" width="2" height="2"/>
<rect x="624" y="180" width="2" height="2"/>
<rect x="625" y="181" width="2" height="2"/>
<rect x="626" y="182" width="2" height="2"/>
<rect x="627" y="183" width="3" height="2"/>
<rect x="629" y="184" width="2" height="2"/>
<rect x="630" y="185" width="2" height="2"/>
<rect x="631" y="186" width="2" height="2"/>
<rect x="632" y="187" width="2" height="2"/>
<rect x="633" y="188" width="2" height="2"/>
<rect x="634" y="189" width="2" height="2"/>
<rect x="635" y="190" width="3" height="2"/>
<rect x="637" y="191" width="2" height="2"/>
<rect x="638" y="192" width="2" height="2"/>
<rect x="639" y="193" width="3" height="2"/>
<rect x="641" y="194" width="2" height="2"/>
<rect x="642" y="195" width="2" height="2"/>
<rect x="643" y="196" width="3" height="2"/>
<rect x="645" y="197" width="2" height="2"/>
<rect x="646" y="198" width="2" height="2"/>
<rect x="647" y="199" width="3" height="2"/>
<rect x="649" y="200" width="3" height="2"/>
<rect x="651" y="201" width="2" height="2"/>
<rect x="652" y="202" width="3" height="2"/>
<rect x="654" y="203" width="2" height="2"/>
<rect x="655" y="204" width="3" height="2"/>
<rect x="657" y="205" width="2" height="2"/>
<rect x="658" y="206" width="2" height="2"/>
<rect x="659" y="207" width="2" height="2"/>
<rect x="660" y="208" width="2" height="2"/>
<rect x="661" y="209" width="2" height="2"/>
<rect x="662" y="210" width="3" height="2"/>
<rect x="664" y="211" width="2" height="2"/>
<rect x="665" y="212" width="2" height="2"/>
<rect x="666" y="213" width="2" height="2"/>
<rect x="667" y="214" width="2" height="2"/>
<rect x="668" y="215" width="2" height="2"/>
<rect x="669" y="216" width="2" height="2"/>
<rect x="670" y="217" width="2" height="2"/>
<rect x="671" y="218" width="3" height="2"/>
<rect x="673" y="219" width="2" height="2"/>
<rect x="674" y="220" width="2" height="2"/>
<rect x="675" y="221" width="2" height="2"/>
<rect x="676" y="222" width="2" height="2"/>
<rect x="677" y="223" width="2" height="2"/>
<rect x="678" y="224" width="2" height="2"/>
<rect x="679" y="225" width="3" height="2"/>
<rect x="681" y="226" width="2" height="2"/>
<rect x="682" y="227" width="2" height="2"/>
<rect x="683" y="228" width="3" height="2"/>
<rect x="685" y="229" width="2" height="2"/>
<rect x="686" y="230" width="2" height="2"/>
<rect x="687" y="231" width="3" height="2"/>
<rect x="689" y="232" width="2" height="2"/>
<rect x="690" y="233" width="2" height="2"/>
<rect x="691" y="234" width="2" height="2"/>
<rect x="692" y="235" width="3" height="2"/>
<rect x="694" y="236" width="2" height="2"/>
<rect x="695" y="237" width="2" height="2"/>
<rect x="696" y="238" width="3" height="2"/>
<rect x="698" y="239" width="2" height="2"/>
<rect x="699" y="240" width="2" height="2"/>
<rect x="700" y="241" width="3" height="2"/>
<rect x="702" y="242" width="2" height="2"/>
<rect x="703" y="243" width="2" height="2"/>
<rect x="704" y="244" width="2" height="2"/>
<rect x="705" y="245" width="3" height="2"/>
<rect x="707" y="246" width="2" height="2"/>
<rect x="708" y="247" width="2" height="2"/>
<rect x="709" y="248" width="3" height="2"/>
<rect x="711" y="249" width="2" height="2"/>
<rect x="712" y="250" width="3" height="2"/>
<rect x="714" y="251" width="3" height="2"/>
<rect x="716" y="252" width="2" height="2"/>
<rect x="717" y="253" width="3" height="2"/>
<rect x="719" y="254" width="2" height="2"/>
<rect x="720" y="255" width="3" height="2"/>
<rect x="722" y="256" width="3" height="2"/>
<rect x="724" y="257" width="2" height="2"/>
<rect x="725" y="258" width="3" height="2"/>
<rect x="727" y="259" width="3" height="2"/>
<rect x="729" y="260" width="3" height="2"/>
<rect x="731" y="261" width="3" height="2"/>
<rect x="733" y="262" width="3" height="2"/>
<rect x="735" y="263" width="3" height="2"/>
<rect x="737" y="264" width="3" height="2"/>
<rect x="739" y="265" width="3" height="2"/>
<rect x="741" y="266" width="4" height="2"/>
<rect x="744" y="267" width="3" height="2"/>
<rect x="746" y="268" width="2" height="2"/>
</g>
<g shape-rendering="crispEdges">
<rect x="2" y="2" width="840" height="1" fill="#000"/>
<rect x="2" y="356" width="840" height="1" fill="#000"/>
<rect x="2" y="2" width="1" height="355" fill="#000"/>
<rect x="841" y="2" width="1" height="355" fill="#000"/>
<rect x="2" y="358" width="840" height="1" fill="#000"/>
<rect x="2" y="454" width="840" height="1" fill="#000"/>
<rect x="2" y="358" width="1" height="97" fill="#000"/>
<rect x="841" y="358" width="1" height="97" fill="#000"/>
<rect x="842" y="13" width="2" height="1" fill="#000"/>
<rect x="842" y="50" width="2" height="1" fill="#000"/>
<rect x="842" y="87" width="2" height="1" fill="#000"/>
<rect x="842" y="124" width="2" height="1" fill="#000"/>
<rect x="842" y="161" width="2" height="1" fill="#000"/>
<rect x="842" y="198" width="2" height="1" fill="#000"/>
<rect x="842" y="235" width="2" height="1" fill="#000"/>
<rect x="842" y="272" width="2" height="1" fill="#000"/>
<rect x="842" y="309" width="2" height="1" fill="#000"/>
<rect x="842" y="346" width="2" height="1" fill="#000"/>
<rect x="842" y="360" width="1" height="1" fill="#000"/>
<rect x="842" y="380" width="1" height="1" fill="#000"/>
<rect x="842" y="453" width="1" height="1" fill="#000"/>
<rect x="3" y="455" width="1" height="3" fill="#000"/>
<rect x="67" y="455" width="1" height="3" fill="#000"/>
<rect x="131" y="455" width="1" height="3" fill="#000"/>
<rect x="195" y="455" width="1" height="3" fill="#000"/>
<rect x="259" y="455" width="1" height="3" fill="#000"/>
<rect x="323" y="455" width="1" height="3" fill="#000"/>
<rect x="387" y="455" width="1" height="3" fill="#000"/>
<rect x="451" y="455" width="1" height="3" fill="#000"/>
<rect x="515" y="455" width="1" height="3" fill="#000"/>
<rect x="579" y="455" width="1" height="3" fill="#000"/>
<rect x="643" y="455" width="1" height="3" fill="#000"/>
<rect x="707" y="455" width="1" height="3" fill="#000"/>
<rect x="843" y="285" width="36" height="11" fill="#000"/>
<rect x="6" y="9" width="7" height="1" fill="#000"/>
<rect x="7" y="10" width="5" height="1" fill="#000"/>
<rect x="8" y="11" width="3" height="1" fill="#000"/>
<rect x="9" y="12" width="1" height="1" fill="#000"/>
</g>
<text x="18.2" y="14" font-size="10" textLength="55.8" lengthAdjust="spacingAndGlyphs">USDCAD,H1</text>
<text x="80" y="14" font-size="10" textLength="28.7" lengthAdjust="spacingAndGlyphs">1.0897</text>
<text x="111.6" y="14" font-size="10" textLength="28.7" lengthAdjust="spacingAndGlyphs">1.0898</text>
<text x="142.5" y="14" font-size="10" textLength="28.7" lengthAdjust="spacingAndGlyphs">1.0894</text>
<text x="173.4" y="14" font-size="10" textLength="28.7" lengthAdjust="spacingAndGlyphs">1.0895</text>
<text x="847.1" y="16" font-size="10" textLength="28.2" lengthAdjust="spacingAndGlyphs">1.1045</text>
<text x="847.1" y="53" font-size="10" textLength="28.2" lengthAdjust="spacingAndGlyphs">1.1025</text>
<text x="847.1" y="90" font-size="10" textLength="28.2" lengthAdjust="spacingAndGlyphs">1.1005</text>
<text x="847.1" y="127" font-size="10" textLength="28.2" lengthAdjust="spacingAndGlyphs">1.0985</text>
<text x="847.1" y="164" font-size="10" textLength="28.2" lengthAdjust="spacingAndGlyphs">1.0965</text>
<text x="847.1" y="201" font-size="10" textLength="28.2" lengthAdjust="spacingAndGlyphs">1.0945</text>
<text x="847.1" y="238" font-size="10" textLength="28.2" lengthAdjust="spacingAndGlyphs">1.0925</text>
<text x="847.1" y="275" font-size="10" textLength="28.2" lengthAdjust="spacingAndGlyphs">1.0905</text>
<text x="847.1" y="312" font-size="10" textLength="28.2" lengthAdjust="spacingAndGlyphs">1.0885</text>
<text x="847.1" y="349" font-size="10" textLength="28.2" lengthAdjust="spacingAndGlyphs">1.0865</text>
<text x="847.1" y="294" font-size="10" textLength="28.2" lengthAdjust="spacingAndGlyphs" style="fill:#fff;stroke:#fff">1.0895</text>
<text x="844.8" y="369" font-size="10" textLength="33.3" lengthAdjust="spacingAndGlyphs">0.00062</text>
<text x="844.8" y="383" font-size="10" textLength="18.8" lengthAdjust="spacingAndGlyphs">0.00</text>
<text x="845.4" y="451" font-size="10" textLength="36.1" lengthAdjust="spacingAndGlyphs">-0.00223</text>
<text x="7" y="371" font-size="10" textLength="29.4" lengthAdjust="spacingAndGlyphs">MACD</text>
<text x="36.2" y="371" font-size="10" textLength="37" lengthAdjust="spacingAndGlyphs">(12,26,9)</text>
<text x="76.4" y="371" font-size="10" textLength="35.3" lengthAdjust="spacingAndGlyphs">-0.00016</text>
<text x="115.1" y="371" font-size="10" textLength="35.5" lengthAdjust="spacingAndGlyphs">-0.00032</text>
<text x="7" y="450" font-size="10" textLength="231.8" lengthAdjust="spacingAndGlyphs">MetaTrader, © 2001-2014, MetaQuotes Software Corp.</text>
<text x="2" y="467" font-size="10" textLength="51.5" lengthAdjust="spacingAndGlyphs">28 Apr 2014</text>
<text x="66" y="467" font-size="10" textLength="53.6" lengthAdjust="spacingAndGlyphs">28 Apr 22:00</text>
<text x="130" y="467" font-size="10" textLength="53.6" lengthAdjust="spacingAndGlyphs">29 Apr 14:00</text>
<text x="194" y="467" font-size="10" textLength="53.6" lengthAdjust="spacingAndGlyphs">30 Apr 06:00</text>
<text x="258" y="467" font-size="10" textLength="53.6" lengthAdjust="spacingAndGlyphs">30 Apr 22:00</text>
<text x="322" y="467" font-size="10" textLength="52.4" lengthAdjust="spacingAndGlyphs">1 May 14:00</text>
<text x="386" y="467" font-size="10" textLength="52.4" lengthAdjust="spacingAndGlyphs">2 May 06:00</text>
<text x="450" y="467" font-size="10" textLength="52.4" lengthAdjust="spacingAndGlyphs">2 May 22:00</text>
<text x="514" y="467" font-size="10" textLength="52.4" lengthAdjust="spacingAndGlyphs">5 May 15:00</text>
<text x="578" y="467" font-size="10" textLength="52.4" lengthAdjust="spacingAndGlyphs">6 May 07:00</text>
<text x="642" y="467" font-size="10" textLength="52.4" lengthAdjust="spacingAndGlyphs">6 May 23:00</text>
<text x="706" y="467" font-size="10" textLength="52.4" lengthAdjust="spacingAndGlyphs">7 May 15:00</text>
</svg></body></html>
